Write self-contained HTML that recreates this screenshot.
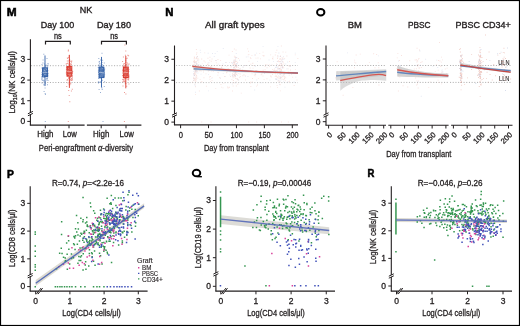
<!DOCTYPE html>
<html><head><meta charset="utf-8"><style>
html,body{margin:0;padding:0;background:#fff;}
svg{display:block;will-change:transform;}
text{font-family:"Liberation Sans", sans-serif;stroke:#231f20;stroke-width:0.3px;}
</style></head><body>
<svg width="520" height="326" viewBox="0 0 520 326" font-family='"Liberation Sans", sans-serif'>
<rect x="0" y="0" width="520" height="326" fill="#fff"/>
<text x="6.7" y="16.3" font-size="11.6" text-anchor="start" font-weight="bold" fill="#000" textLength="9.9" lengthAdjust="spacingAndGlyphs" style="stroke:#000;stroke-width:0.55px">M</text>
<text x="79.8" y="13.1" font-size="9.4" text-anchor="start" font-weight="normal" fill="#231f20" textLength="12.5" lengthAdjust="spacingAndGlyphs" style="stroke-width:0.36px">NK</text>
<text x="40.7" y="27.85" font-size="9.4" text-anchor="start" font-weight="normal" fill="#231f20" textLength="33.5" lengthAdjust="spacingAndGlyphs" style="stroke-width:0.36px">Day 100</text>
<text x="97.0" y="27.85" font-size="9.4" text-anchor="start" font-weight="normal" fill="#231f20" textLength="34.0" lengthAdjust="spacingAndGlyphs" style="stroke-width:0.36px">Day 180</text>
<text x="53.9" y="38.8" font-size="8.4" text-anchor="start" font-weight="normal" fill="#231f20" textLength="7.8" lengthAdjust="spacingAndGlyphs" >ns</text>
<text x="110.2" y="38.8" font-size="8.4" text-anchor="start" font-weight="normal" fill="#231f20" textLength="7.9" lengthAdjust="spacingAndGlyphs" >ns</text>
<path d="M45.5,44.6 V41.3 H70.3 V44.6" stroke="#231f20" stroke-width="1.2" fill="none" />
<path d="M101.5,44.6 V41.4 H126.4 V44.6" stroke="#231f20" stroke-width="1.2" fill="none" />
<line x1="31" y1="65.7" x2="84.5" y2="65.7" stroke="#b0b0b0" stroke-width="1.0" stroke-dasharray="1.1,1.6"/>
<line x1="87" y1="65.7" x2="141" y2="65.7" stroke="#b0b0b0" stroke-width="1.0" stroke-dasharray="1.1,1.6"/>
<line x1="31" y1="82.5" x2="84.5" y2="82.5" stroke="#b0b0b0" stroke-width="1.0" stroke-dasharray="1.1,1.6"/>
<line x1="87" y1="82.5" x2="141" y2="82.5" stroke="#b0b0b0" stroke-width="1.0" stroke-dasharray="1.1,1.6"/>
<line x1="30.4" y1="39.2" x2="30.4" y2="125.3" stroke="#231f20" stroke-width="1.1" />
<path d="M27.9,113.8 L32.9,111.39999999999999 L32.9,113.39999999999999 L27.9,115.8Z" fill="#fff"/>
<path d="M27.9,113.8 L32.9,111.39999999999999 M27.9,115.8 L32.9,113.39999999999999" stroke="#231f20" stroke-width="1.0" fill="none" />
<line x1="27.3" y1="59.39" x2="30.4" y2="59.39" stroke="#231f20" stroke-width="1.0" />
<text x="25.3" y="62.19" font-size="8.5" text-anchor="end" font-weight="normal" fill="#231f20" >3</text>
<line x1="27.3" y1="80.06" x2="30.4" y2="80.06" stroke="#231f20" stroke-width="1.0" />
<text x="25.3" y="82.86" font-size="8.5" text-anchor="end" font-weight="normal" fill="#231f20" >2</text>
<line x1="27.3" y1="100.73" x2="30.4" y2="100.73" stroke="#231f20" stroke-width="1.0" />
<text x="25.3" y="103.53" font-size="8.5" text-anchor="end" font-weight="normal" fill="#231f20" >1</text>
<line x1="27.3" y1="121.4" x2="30.4" y2="121.4" stroke="#231f20" stroke-width="1.0" />
<text x="25.3" y="124.2" font-size="8.5" text-anchor="end" font-weight="normal" fill="#231f20" >0</text>
<line x1="29.85" y1="125.1" x2="84.6" y2="125.1" stroke="#231f20" stroke-width="1.1" />
<line x1="86.9" y1="125.1" x2="141.4" y2="125.1" stroke="#231f20" stroke-width="1.1" />
<line x1="45.3" y1="125.1" x2="45.3" y2="128.3" stroke="#231f20" stroke-width="1.0" />
<line x1="69.0" y1="125.1" x2="69.0" y2="128.3" stroke="#231f20" stroke-width="1.0" />
<line x1="101.2" y1="125.1" x2="101.2" y2="128.3" stroke="#231f20" stroke-width="1.0" />
<line x1="126.0" y1="125.1" x2="126.0" y2="128.3" stroke="#231f20" stroke-width="1.0" />
<text x="37.2" y="137.4" font-size="8.6" text-anchor="start" font-weight="normal" fill="#231f20" textLength="16.3" lengthAdjust="spacingAndGlyphs" >High</text>
<text x="62.8" y="137.4" font-size="8.6" text-anchor="start" font-weight="normal" fill="#231f20" textLength="14.0" lengthAdjust="spacingAndGlyphs" >Low</text>
<text x="93.0" y="137.4" font-size="8.6" text-anchor="start" font-weight="normal" fill="#231f20" textLength="16.3" lengthAdjust="spacingAndGlyphs" >High</text>
<text x="119.6" y="137.4" font-size="8.6" text-anchor="start" font-weight="normal" fill="#231f20" textLength="14.2" lengthAdjust="spacingAndGlyphs" >Low</text>
<text x="38.8" y="150.9" font-size="9.0" text-anchor="start" font-weight="normal" fill="#231f20" textLength="94.2" lengthAdjust="spacingAndGlyphs" >Peri-engraftment <tspan font-style="italic">α</tspan>-diversity</text>
<text transform="translate(15.3,113.6) rotate(-90)" font-size="9.2" fill="#231f20" textLength="62.6" lengthAdjust="spacingAndGlyphs">Log<tspan font-size="6" dy="1.8">10</tspan><tspan dy="-1.8">(NK cells/μl)</tspan></text>
<path d="M47.2,71.9h1.0v1.0h-1.0zM42.2,70.1h1.0v1.0h-1.0zM47.4,73.6h1.0v1.0h-1.0zM41.2,77.4h1.0v1.0h-1.0zM46.2,74.7h1.0v1.0h-1.0zM46.5,78.1h1.0v1.0h-1.0zM42.1,71.5h1.0v1.0h-1.0zM44.0,63.6h1.0v1.0h-1.0zM46.6,75.0h1.0v1.0h-1.0zM41.3,75.8h1.0v1.0h-1.0zM45.3,68.9h1.0v1.0h-1.0zM46.4,69.7h1.0v1.0h-1.0zM44.6,71.3h1.0v1.0h-1.0zM46.0,77.7h1.0v1.0h-1.0zM42.7,72.1h1.0v1.0h-1.0zM42.5,67.6h1.0v1.0h-1.0zM43.6,80.2h1.0v1.0h-1.0zM42.4,74.7h1.0v1.0h-1.0zM43.5,83.7h1.0v1.0h-1.0zM47.5,79.9h1.0v1.0h-1.0zM45.0,83.3h1.0v1.0h-1.0zM43.4,73.4h1.0v1.0h-1.0zM43.0,79.8h1.0v1.0h-1.0zM47.5,70.2h1.0v1.0h-1.0zM44.1,70.9h1.0v1.0h-1.0zM47.7,73.1h1.0v1.0h-1.0zM44.6,87.5h1.0v1.0h-1.0zM44.6,75.3h1.0v1.0h-1.0zM47.1,72.2h1.0v1.0h-1.0zM46.1,71.2h1.0v1.0h-1.0zM45.0,81.4h1.0v1.0h-1.0zM44.0,74.9h1.0v1.0h-1.0zM47.0,78.0h1.0v1.0h-1.0zM43.9,76.9h1.0v1.0h-1.0zM47.3,65.3h1.0v1.0h-1.0zM41.7,76.9h1.0v1.0h-1.0zM44.0,72.1h1.0v1.0h-1.0zM44.6,66.4h1.0v1.0h-1.0zM47.5,75.5h1.0v1.0h-1.0zM42.9,72.6h1.0v1.0h-1.0zM46.5,71.2h1.0v1.0h-1.0zM45.7,71.5h1.0v1.0h-1.0zM45.9,79.5h1.0v1.0h-1.0zM45.4,71.4h1.0v1.0h-1.0zM47.6,63.5h1.0v1.0h-1.0zM43.4,81.5h1.0v1.0h-1.0zM43.8,66.6h1.0v1.0h-1.0zM42.5,71.2h1.0v1.0h-1.0zM41.5,75.9h1.0v1.0h-1.0zM42.6,59.5h1.0v1.0h-1.0zM47.2,67.2h1.0v1.0h-1.0zM46.7,79.3h1.0v1.0h-1.0zM41.9,71.5h1.0v1.0h-1.0zM45.2,68.3h1.0v1.0h-1.0zM44.4,73.1h1.0v1.0h-1.0zM45.1,67.7h1.0v1.0h-1.0zM45.6,72.3h1.0v1.0h-1.0zM43.2,67.8h1.0v1.0h-1.0zM47.5,63.0h1.0v1.0h-1.0zM44.3,76.1h1.0v1.0h-1.0zM45.3,70.7h1.0v1.0h-1.0zM45.4,74.8h1.0v1.0h-1.0zM42.4,71.1h1.0v1.0h-1.0zM41.6,79.3h1.0v1.0h-1.0zM43.9,75.5h1.0v1.0h-1.0zM46.2,73.1h1.0v1.0h-1.0zM46.6,66.3h1.0v1.0h-1.0zM46.0,64.8h1.0v1.0h-1.0zM41.9,80.1h1.0v1.0h-1.0zM47.2,76.8h1.0v1.0h-1.0zM46.5,67.9h1.0v1.0h-1.0zM47.0,84.3h1.0v1.0h-1.0zM44.7,74.8h1.0v1.0h-1.0zM47.2,72.5h1.0v1.0h-1.0zM41.5,64.1h1.0v1.0h-1.0zM41.4,67.6h1.0v1.0h-1.0zM41.3,73.9h1.0v1.0h-1.0zM42.9,74.2h1.0v1.0h-1.0zM42.8,73.5h1.0v1.0h-1.0zM42.4,62.5h1.0v1.0h-1.0zM44.9,74.6h1.0v1.0h-1.0zM41.5,73.8h1.0v1.0h-1.0zM45.1,69.7h1.0v1.0h-1.0zM42.3,72.7h1.0v1.0h-1.0zM45.7,73.1h1.0v1.0h-1.0zM41.3,78.8h1.0v1.0h-1.0zM43.2,72.0h1.0v1.0h-1.0zM47.4,74.7h1.0v1.0h-1.0zM44.8,64.7h1.0v1.0h-1.0zM46.6,67.9h1.0v1.0h-1.0zM45.5,72.1h1.0v1.0h-1.0zM45.2,67.8h1.0v1.0h-1.0zM42.5,74.0h1.0v1.0h-1.0zM45.0,65.4h1.0v1.0h-1.0zM41.5,71.9h1.0v1.0h-1.0zM46.5,68.3h1.0v1.0h-1.0zM47.5,79.9h1.0v1.0h-1.0zM46.8,69.8h1.0v1.0h-1.0zM41.5,82.4h1.0v1.0h-1.0zM43.4,84.5h1.0v1.0h-1.0zM43.3,73.8h1.0v1.0h-1.0zM41.9,77.5h1.0v1.0h-1.0zM45.3,70.9h1.0v1.0h-1.0zM46.5,58.0h1.0v1.0h-1.0zM43.3,77.1h1.0v1.0h-1.0zM46.9,75.8h1.0v1.0h-1.0zM46.5,70.6h1.0v1.0h-1.0zM42.1,68.9h1.0v1.0h-1.0zM46.3,73.0h1.0v1.0h-1.0zM47.0,73.2h1.0v1.0h-1.0zM43.6,90.9h1.0v1.0h-1.0zM44.7,93.0h1.0v1.0h-1.0zM44.9,94.0h1.0v1.0h-1.0zM44.8,120.9h1.0v1.0h-1.0zM43.3,53.7h1.0v1.0h-1.0z" fill="#2f5ea6" fill-opacity="0.5"/>
<line x1="45.0" y1="55.4627" x2="45.0" y2="67.8647" stroke="#2f5ea6" stroke-width="0.9" />
<line x1="45.0" y1="76.5461" x2="45.0" y2="86.05430000000001" stroke="#2f5ea6" stroke-width="0.9" />
<rect x="42.6" y="67.8647" width="4.8" height="8.681399999999996" fill="#2f5ea6" fill-opacity="0.75" stroke="#2f5ea6" stroke-width="1.0"/>
<path d="M45.2,70.7h0.8v0.8h-0.8zM45.9,69.2h0.8v0.8h-0.8zM43.9,69.9h0.8v0.8h-0.8zM46.1,68.4h0.8v0.8h-0.8zM43.2,75.9h0.8v0.8h-0.8zM45.2,74.3h0.8v0.8h-0.8zM44.9,67.9h0.8v0.8h-0.8zM44.1,74.0h0.8v0.8h-0.8zM44.4,70.4h0.8v0.8h-0.8zM43.0,72.8h0.8v0.8h-0.8z" fill="#ffffff" fill-opacity="0.35"/>
<line x1="42.5" y1="72.41210000000001" x2="47.5" y2="72.41210000000001" stroke="#ffffff" stroke-width="0.7" stroke-opacity="0.6"/>
<path d="M67.8,70.3h1.0v1.0h-1.0zM71.8,72.9h1.0v1.0h-1.0zM66.6,63.0h1.0v1.0h-1.0zM69.0,71.0h1.0v1.0h-1.0zM66.2,85.9h1.0v1.0h-1.0zM72.0,75.6h1.0v1.0h-1.0zM69.4,84.3h1.0v1.0h-1.0zM70.9,90.5h1.0v1.0h-1.0zM67.5,74.5h1.0v1.0h-1.0zM70.9,61.8h1.0v1.0h-1.0zM70.2,70.6h1.0v1.0h-1.0zM69.8,78.9h1.0v1.0h-1.0zM71.9,77.3h1.0v1.0h-1.0zM68.5,63.2h1.0v1.0h-1.0zM68.3,69.8h1.0v1.0h-1.0zM70.2,70.6h1.0v1.0h-1.0zM71.1,71.2h1.0v1.0h-1.0zM67.8,70.6h1.0v1.0h-1.0zM70.0,65.4h1.0v1.0h-1.0zM67.0,67.1h1.0v1.0h-1.0zM69.2,69.4h1.0v1.0h-1.0zM70.7,78.0h1.0v1.0h-1.0zM66.0,67.4h1.0v1.0h-1.0zM70.4,75.5h1.0v1.0h-1.0zM65.7,63.4h1.0v1.0h-1.0zM71.9,79.5h1.0v1.0h-1.0zM68.7,71.8h1.0v1.0h-1.0zM68.3,70.9h1.0v1.0h-1.0zM70.4,79.9h1.0v1.0h-1.0zM69.1,59.1h1.0v1.0h-1.0zM70.4,60.9h1.0v1.0h-1.0zM66.2,74.0h1.0v1.0h-1.0zM69.3,65.6h1.0v1.0h-1.0zM69.3,68.3h1.0v1.0h-1.0zM71.8,88.7h1.0v1.0h-1.0zM65.9,69.2h1.0v1.0h-1.0zM68.6,71.3h1.0v1.0h-1.0zM69.8,70.3h1.0v1.0h-1.0zM69.2,78.2h1.0v1.0h-1.0zM66.1,72.7h1.0v1.0h-1.0zM69.5,72.1h1.0v1.0h-1.0zM67.1,62.8h1.0v1.0h-1.0zM66.9,68.6h1.0v1.0h-1.0zM71.4,70.9h1.0v1.0h-1.0zM66.9,60.4h1.0v1.0h-1.0zM68.6,74.7h1.0v1.0h-1.0zM70.6,73.5h1.0v1.0h-1.0zM70.3,83.3h1.0v1.0h-1.0zM69.3,60.2h1.0v1.0h-1.0zM70.9,64.3h1.0v1.0h-1.0zM68.7,64.6h1.0v1.0h-1.0zM69.7,66.3h1.0v1.0h-1.0zM71.0,70.1h1.0v1.0h-1.0zM70.1,69.4h1.0v1.0h-1.0zM69.8,72.6h1.0v1.0h-1.0zM68.3,72.3h1.0v1.0h-1.0zM69.3,70.5h1.0v1.0h-1.0zM68.2,60.6h1.0v1.0h-1.0zM70.5,67.1h1.0v1.0h-1.0zM68.1,71.3h1.0v1.0h-1.0zM68.7,74.8h1.0v1.0h-1.0zM70.6,75.2h1.0v1.0h-1.0zM68.9,59.9h1.0v1.0h-1.0zM67.8,67.4h1.0v1.0h-1.0zM71.1,70.4h1.0v1.0h-1.0zM68.1,73.2h1.0v1.0h-1.0zM71.2,78.4h1.0v1.0h-1.0zM70.8,71.3h1.0v1.0h-1.0zM68.6,64.9h1.0v1.0h-1.0zM70.3,73.6h1.0v1.0h-1.0zM65.8,72.4h1.0v1.0h-1.0zM68.2,72.4h1.0v1.0h-1.0zM71.3,70.1h1.0v1.0h-1.0zM69.4,81.7h1.0v1.0h-1.0zM69.3,72.5h1.0v1.0h-1.0zM70.0,76.7h1.0v1.0h-1.0zM70.1,64.8h1.0v1.0h-1.0zM69.5,76.1h1.0v1.0h-1.0zM68.4,66.9h1.0v1.0h-1.0zM66.8,60.5h1.0v1.0h-1.0zM67.5,73.0h1.0v1.0h-1.0zM67.5,75.0h1.0v1.0h-1.0zM68.4,69.6h1.0v1.0h-1.0zM72.2,70.9h1.0v1.0h-1.0zM67.9,77.7h1.0v1.0h-1.0zM68.6,67.7h1.0v1.0h-1.0zM68.1,57.1h1.0v1.0h-1.0zM69.4,72.6h1.0v1.0h-1.0zM71.9,72.3h1.0v1.0h-1.0zM71.5,78.0h1.0v1.0h-1.0zM68.1,68.7h1.0v1.0h-1.0zM67.4,79.4h1.0v1.0h-1.0zM71.4,78.4h1.0v1.0h-1.0zM68.9,62.1h1.0v1.0h-1.0zM70.1,77.1h1.0v1.0h-1.0zM66.1,63.5h1.0v1.0h-1.0zM71.3,60.5h1.0v1.0h-1.0zM67.7,69.1h1.0v1.0h-1.0zM68.9,67.1h1.0v1.0h-1.0zM66.9,57.6h1.0v1.0h-1.0zM68.4,72.2h1.0v1.0h-1.0zM71.1,74.9h1.0v1.0h-1.0zM71.1,80.1h1.0v1.0h-1.0zM68.7,70.6h1.0v1.0h-1.0zM70.7,60.8h1.0v1.0h-1.0zM68.6,64.3h1.0v1.0h-1.0zM68.1,77.3h1.0v1.0h-1.0zM69.2,76.7h1.0v1.0h-1.0zM66.9,74.3h1.0v1.0h-1.0zM67.7,68.9h1.0v1.0h-1.0zM70.3,72.3h1.0v1.0h-1.0zM70.7,69.4h1.0v1.0h-1.0zM66.0,68.9h1.0v1.0h-1.0zM70.4,72.9h1.0v1.0h-1.0zM71.0,71.2h1.0v1.0h-1.0zM68.5,69.5h1.0v1.0h-1.0zM66.0,71.5h1.0v1.0h-1.0zM70.1,67.4h1.0v1.0h-1.0zM67.2,58.1h1.0v1.0h-1.0zM69.8,66.8h1.0v1.0h-1.0zM68.1,70.5h1.0v1.0h-1.0zM69.8,82.4h1.0v1.0h-1.0zM67.3,68.2h1.0v1.0h-1.0zM68.7,84.2h1.0v1.0h-1.0zM69.1,80.5h1.0v1.0h-1.0zM69.8,65.0h1.0v1.0h-1.0zM66.9,66.1h1.0v1.0h-1.0zM71.9,71.9h1.0v1.0h-1.0zM67.5,82.5h1.0v1.0h-1.0zM67.6,73.4h1.0v1.0h-1.0zM67.3,75.5h1.0v1.0h-1.0zM66.0,66.5h1.0v1.0h-1.0zM68.4,55.5h1.0v1.0h-1.0zM70.7,69.4h1.0v1.0h-1.0zM70.3,76.2h1.0v1.0h-1.0zM66.9,78.9h1.0v1.0h-1.0zM66.5,71.3h1.0v1.0h-1.0zM67.7,72.1h1.0v1.0h-1.0zM70.7,78.7h1.0v1.0h-1.0zM68.8,70.1h1.0v1.0h-1.0zM71.7,78.7h1.0v1.0h-1.0zM69.9,63.3h1.0v1.0h-1.0zM69.7,63.6h1.0v1.0h-1.0zM70.7,63.5h1.0v1.0h-1.0zM70.6,74.1h1.0v1.0h-1.0zM67.9,67.4h1.0v1.0h-1.0zM67.3,71.8h1.0v1.0h-1.0zM68.5,73.5h1.0v1.0h-1.0zM68.8,73.2h1.0v1.0h-1.0zM66.5,79.7h1.0v1.0h-1.0zM68.7,95.1h1.0v1.0h-1.0zM69.3,101.3h1.0v1.0h-1.0zM67.8,120.9h1.0v1.0h-1.0zM67.8,50.6h1.0v1.0h-1.0zM67.9,49.6h1.0v1.0h-1.0zM68.2,89.9h1.0v1.0h-1.0z" fill="#d9372b" fill-opacity="0.5"/>
<line x1="69.4" y1="54.84259999999999" x2="69.4" y2="66.62450000000001" stroke="#d9372b" stroke-width="0.9" />
<line x1="69.4" y1="76.1327" x2="69.4" y2="87.91460000000001" stroke="#d9372b" stroke-width="0.9" />
<rect x="67.0" y="66.62450000000001" width="4.8" height="9.508199999999988" fill="#d9372b" fill-opacity="0.75" stroke="#d9372b" stroke-width="1.0"/>
<path d="M70.8,75.5h0.8v0.8h-0.8zM67.7,74.2h0.8v0.8h-0.8zM68.9,75.6h0.8v0.8h-0.8zM68.8,74.2h0.8v0.8h-0.8zM68.1,68.2h0.8v0.8h-0.8zM67.7,69.9h0.8v0.8h-0.8zM68.6,71.8h0.8v0.8h-0.8zM70.3,74.2h0.8v0.8h-0.8zM70.7,67.2h0.8v0.8h-0.8zM69.7,75.3h0.8v0.8h-0.8z" fill="#ffffff" fill-opacity="0.35"/>
<line x1="66.9" y1="71.58529999999999" x2="71.9" y2="71.58529999999999" stroke="#ffffff" stroke-width="0.7" stroke-opacity="0.6"/>
<path d="M100.7,70.6h1.0v1.0h-1.0zM104.1,81.3h1.0v1.0h-1.0zM99.8,68.6h1.0v1.0h-1.0zM98.0,64.7h1.0v1.0h-1.0zM100.3,65.7h1.0v1.0h-1.0zM98.7,70.5h1.0v1.0h-1.0zM98.2,81.6h1.0v1.0h-1.0zM101.4,66.1h1.0v1.0h-1.0zM104.0,72.8h1.0v1.0h-1.0zM101.5,87.6h1.0v1.0h-1.0zM102.0,69.6h1.0v1.0h-1.0zM99.8,81.2h1.0v1.0h-1.0zM101.5,80.0h1.0v1.0h-1.0zM102.7,75.8h1.0v1.0h-1.0zM101.6,64.0h1.0v1.0h-1.0zM103.0,74.2h1.0v1.0h-1.0zM101.3,70.2h1.0v1.0h-1.0zM99.0,61.1h1.0v1.0h-1.0zM101.5,62.0h1.0v1.0h-1.0zM100.9,72.6h1.0v1.0h-1.0zM98.8,73.4h1.0v1.0h-1.0zM101.8,79.7h1.0v1.0h-1.0zM103.1,76.2h1.0v1.0h-1.0zM98.6,69.3h1.0v1.0h-1.0zM101.3,69.5h1.0v1.0h-1.0zM102.5,71.2h1.0v1.0h-1.0zM100.4,65.7h1.0v1.0h-1.0zM99.5,76.7h1.0v1.0h-1.0zM100.2,72.3h1.0v1.0h-1.0zM101.3,67.4h1.0v1.0h-1.0zM102.2,68.3h1.0v1.0h-1.0zM101.4,65.3h1.0v1.0h-1.0zM98.4,69.5h1.0v1.0h-1.0zM103.1,73.8h1.0v1.0h-1.0zM103.8,69.7h1.0v1.0h-1.0zM98.4,78.1h1.0v1.0h-1.0zM99.3,82.1h1.0v1.0h-1.0zM98.8,68.3h1.0v1.0h-1.0zM103.3,72.3h1.0v1.0h-1.0zM103.7,70.0h1.0v1.0h-1.0zM98.0,82.4h1.0v1.0h-1.0zM99.9,74.2h1.0v1.0h-1.0zM99.0,75.6h1.0v1.0h-1.0zM100.8,77.3h1.0v1.0h-1.0zM103.8,85.9h1.0v1.0h-1.0zM98.2,74.0h1.0v1.0h-1.0zM98.8,66.3h1.0v1.0h-1.0zM100.9,69.5h1.0v1.0h-1.0zM101.2,75.6h1.0v1.0h-1.0zM102.6,72.0h1.0v1.0h-1.0zM100.6,67.2h1.0v1.0h-1.0zM98.6,89.0h1.0v1.0h-1.0zM100.0,72.7h1.0v1.0h-1.0zM104.2,68.5h1.0v1.0h-1.0zM102.7,67.7h1.0v1.0h-1.0zM98.5,61.4h1.0v1.0h-1.0zM103.0,64.9h1.0v1.0h-1.0zM99.8,70.0h1.0v1.0h-1.0zM102.9,70.0h1.0v1.0h-1.0zM97.8,67.0h1.0v1.0h-1.0zM103.5,75.3h1.0v1.0h-1.0zM98.8,72.2h1.0v1.0h-1.0zM100.7,66.3h1.0v1.0h-1.0zM102.1,59.8h1.0v1.0h-1.0zM101.1,72.9h1.0v1.0h-1.0zM98.8,72.2h1.0v1.0h-1.0zM98.6,70.7h1.0v1.0h-1.0zM99.6,63.6h1.0v1.0h-1.0zM98.0,72.1h1.0v1.0h-1.0zM99.1,62.8h1.0v1.0h-1.0zM98.6,77.9h1.0v1.0h-1.0zM100.8,73.1h1.0v1.0h-1.0zM100.1,73.1h1.0v1.0h-1.0zM101.6,67.0h1.0v1.0h-1.0zM99.6,65.4h1.0v1.0h-1.0zM97.9,81.3h1.0v1.0h-1.0zM99.9,77.6h1.0v1.0h-1.0zM102.7,69.8h1.0v1.0h-1.0zM99.4,76.0h1.0v1.0h-1.0zM100.4,81.4h1.0v1.0h-1.0zM102.7,65.5h1.0v1.0h-1.0zM100.4,68.8h1.0v1.0h-1.0zM103.6,68.9h1.0v1.0h-1.0zM103.8,74.9h1.0v1.0h-1.0zM99.7,65.5h1.0v1.0h-1.0zM102.6,73.4h1.0v1.0h-1.0zM99.4,65.1h1.0v1.0h-1.0zM98.6,77.6h1.0v1.0h-1.0zM100.6,77.2h1.0v1.0h-1.0zM101.7,70.6h1.0v1.0h-1.0zM103.9,76.3h1.0v1.0h-1.0zM98.7,67.7h1.0v1.0h-1.0zM102.4,70.3h1.0v1.0h-1.0zM100.8,77.6h1.0v1.0h-1.0zM98.6,71.5h1.0v1.0h-1.0zM104.1,74.1h1.0v1.0h-1.0zM102.3,66.2h1.0v1.0h-1.0zM98.6,75.8h1.0v1.0h-1.0zM103.7,74.6h1.0v1.0h-1.0zM98.4,64.4h1.0v1.0h-1.0zM98.3,58.0h1.0v1.0h-1.0zM99.9,59.5h1.0v1.0h-1.0zM103.9,71.5h1.0v1.0h-1.0zM97.9,70.6h1.0v1.0h-1.0zM103.8,62.4h1.0v1.0h-1.0zM101.7,72.7h1.0v1.0h-1.0zM98.1,78.0h1.0v1.0h-1.0zM101.5,71.2h1.0v1.0h-1.0zM100.7,69.1h1.0v1.0h-1.0zM101.4,77.1h1.0v1.0h-1.0zM101.7,88.9h1.0v1.0h-1.0zM101.5,52.7h1.0v1.0h-1.0zM102.5,120.9h1.0v1.0h-1.0zM100.0,92.0h1.0v1.0h-1.0z" fill="#2f5ea6" fill-opacity="0.5"/>
<line x1="101.5" y1="56.9096" x2="101.5" y2="67.24459999999999" stroke="#2f5ea6" stroke-width="0.9" />
<line x1="101.5" y1="77.5796" x2="101.5" y2="87.50120000000001" stroke="#2f5ea6" stroke-width="0.9" />
<rect x="99.1" y="67.24459999999999" width="4.8" height="10.335000000000008" fill="#2f5ea6" fill-opacity="0.75" stroke="#2f5ea6" stroke-width="1.0"/>
<path d="M102.4,72.9h0.8v0.8h-0.8zM102.2,68.0h0.8v0.8h-0.8zM103.1,74.4h0.8v0.8h-0.8zM100.9,67.4h0.8v0.8h-0.8zM102.9,73.3h0.8v0.8h-0.8zM102.9,73.0h0.8v0.8h-0.8zM100.6,69.4h0.8v0.8h-0.8zM101.0,72.5h0.8v0.8h-0.8zM100.6,72.7h0.8v0.8h-0.8zM99.7,76.5h0.8v0.8h-0.8z" fill="#ffffff" fill-opacity="0.35"/>
<line x1="99.0" y1="72.41210000000001" x2="104.0" y2="72.41210000000001" stroke="#ffffff" stroke-width="0.7" stroke-opacity="0.6"/>
<path d="M126.6,71.5h1.0v1.0h-1.0zM123.3,63.5h1.0v1.0h-1.0zM125.1,68.9h1.0v1.0h-1.0zM128.4,69.1h1.0v1.0h-1.0zM125.6,69.0h1.0v1.0h-1.0zM122.4,81.3h1.0v1.0h-1.0zM124.8,72.8h1.0v1.0h-1.0zM126.4,73.4h1.0v1.0h-1.0zM122.4,70.3h1.0v1.0h-1.0zM123.7,80.7h1.0v1.0h-1.0zM122.1,60.9h1.0v1.0h-1.0zM125.6,71.0h1.0v1.0h-1.0zM124.5,79.7h1.0v1.0h-1.0zM125.3,83.0h1.0v1.0h-1.0zM124.0,73.6h1.0v1.0h-1.0zM126.3,72.3h1.0v1.0h-1.0zM123.1,76.5h1.0v1.0h-1.0zM128.0,71.1h1.0v1.0h-1.0zM128.3,75.9h1.0v1.0h-1.0zM125.3,68.1h1.0v1.0h-1.0zM125.1,76.5h1.0v1.0h-1.0zM127.7,72.0h1.0v1.0h-1.0zM123.9,65.2h1.0v1.0h-1.0zM127.3,54.7h1.0v1.0h-1.0zM123.9,78.4h1.0v1.0h-1.0zM126.8,74.8h1.0v1.0h-1.0zM124.2,77.3h1.0v1.0h-1.0zM126.0,66.5h1.0v1.0h-1.0zM128.1,79.3h1.0v1.0h-1.0zM122.4,74.9h1.0v1.0h-1.0zM127.3,71.9h1.0v1.0h-1.0zM125.6,78.2h1.0v1.0h-1.0zM124.5,78.0h1.0v1.0h-1.0zM124.3,74.9h1.0v1.0h-1.0zM122.5,85.6h1.0v1.0h-1.0zM123.7,81.3h1.0v1.0h-1.0zM126.1,74.4h1.0v1.0h-1.0zM122.6,70.7h1.0v1.0h-1.0zM126.4,72.9h1.0v1.0h-1.0zM128.4,83.4h1.0v1.0h-1.0zM128.5,74.8h1.0v1.0h-1.0zM127.9,66.4h1.0v1.0h-1.0zM127.3,68.0h1.0v1.0h-1.0zM123.2,72.2h1.0v1.0h-1.0zM128.4,77.6h1.0v1.0h-1.0zM123.3,67.5h1.0v1.0h-1.0zM127.7,75.5h1.0v1.0h-1.0zM127.8,79.4h1.0v1.0h-1.0zM126.1,77.0h1.0v1.0h-1.0zM125.4,62.1h1.0v1.0h-1.0zM123.3,70.2h1.0v1.0h-1.0zM125.4,64.0h1.0v1.0h-1.0zM123.9,74.9h1.0v1.0h-1.0zM122.8,65.5h1.0v1.0h-1.0zM122.8,75.7h1.0v1.0h-1.0zM127.3,72.7h1.0v1.0h-1.0zM128.1,55.3h1.0v1.0h-1.0zM122.9,66.6h1.0v1.0h-1.0zM122.1,75.0h1.0v1.0h-1.0zM123.7,72.3h1.0v1.0h-1.0zM122.9,69.5h1.0v1.0h-1.0zM123.2,63.7h1.0v1.0h-1.0zM125.8,74.9h1.0v1.0h-1.0zM124.8,83.2h1.0v1.0h-1.0zM124.8,73.6h1.0v1.0h-1.0zM123.4,71.6h1.0v1.0h-1.0zM126.4,71.0h1.0v1.0h-1.0zM123.9,63.0h1.0v1.0h-1.0zM124.6,69.6h1.0v1.0h-1.0zM125.1,66.3h1.0v1.0h-1.0zM128.0,79.0h1.0v1.0h-1.0zM123.6,66.0h1.0v1.0h-1.0zM126.7,57.8h1.0v1.0h-1.0zM124.0,66.6h1.0v1.0h-1.0zM127.9,70.0h1.0v1.0h-1.0zM124.6,70.7h1.0v1.0h-1.0zM125.3,59.9h1.0v1.0h-1.0zM127.8,77.8h1.0v1.0h-1.0zM126.4,72.4h1.0v1.0h-1.0zM122.6,68.7h1.0v1.0h-1.0zM122.9,66.8h1.0v1.0h-1.0zM128.5,74.6h1.0v1.0h-1.0zM122.2,69.7h1.0v1.0h-1.0zM124.0,73.5h1.0v1.0h-1.0zM128.3,70.9h1.0v1.0h-1.0zM122.1,72.6h1.0v1.0h-1.0zM123.1,79.3h1.0v1.0h-1.0zM123.4,71.8h1.0v1.0h-1.0zM122.6,65.9h1.0v1.0h-1.0zM125.1,78.1h1.0v1.0h-1.0zM125.9,73.3h1.0v1.0h-1.0zM124.1,67.3h1.0v1.0h-1.0zM122.7,78.8h1.0v1.0h-1.0zM127.4,70.5h1.0v1.0h-1.0zM127.3,78.7h1.0v1.0h-1.0zM125.7,64.2h1.0v1.0h-1.0zM122.9,56.4h1.0v1.0h-1.0zM125.6,58.3h1.0v1.0h-1.0zM126.2,73.2h1.0v1.0h-1.0zM124.8,66.8h1.0v1.0h-1.0zM127.7,70.9h1.0v1.0h-1.0zM124.6,71.0h1.0v1.0h-1.0zM125.4,61.5h1.0v1.0h-1.0zM122.8,80.4h1.0v1.0h-1.0zM125.7,64.7h1.0v1.0h-1.0zM127.1,72.0h1.0v1.0h-1.0zM126.8,62.4h1.0v1.0h-1.0zM123.7,70.5h1.0v1.0h-1.0zM128.5,76.2h1.0v1.0h-1.0zM126.8,69.9h1.0v1.0h-1.0zM124.8,66.8h1.0v1.0h-1.0zM124.7,71.5h1.0v1.0h-1.0zM127.1,68.5h1.0v1.0h-1.0zM123.2,75.2h1.0v1.0h-1.0zM126.2,85.8h1.0v1.0h-1.0zM126.7,65.8h1.0v1.0h-1.0zM125.4,67.1h1.0v1.0h-1.0zM127.8,70.7h1.0v1.0h-1.0zM125.1,71.3h1.0v1.0h-1.0zM125.1,64.9h1.0v1.0h-1.0zM123.9,74.7h1.0v1.0h-1.0zM128.1,76.4h1.0v1.0h-1.0zM124.1,73.0h1.0v1.0h-1.0zM126.6,63.8h1.0v1.0h-1.0zM124.7,80.9h1.0v1.0h-1.0zM128.2,63.8h1.0v1.0h-1.0zM128.3,75.9h1.0v1.0h-1.0zM122.2,79.0h1.0v1.0h-1.0zM128.6,63.4h1.0v1.0h-1.0zM126.0,72.3h1.0v1.0h-1.0zM124.0,92.0h1.0v1.0h-1.0zM125.3,50.6h1.0v1.0h-1.0zM123.9,120.9h1.0v1.0h-1.0zM125.4,93.4h1.0v1.0h-1.0zM124.4,44.4h1.0v1.0h-1.0zM124.9,54.8h1.0v1.0h-1.0z" fill="#d9372b" fill-opacity="0.5"/>
<line x1="125.8" y1="55.87610000000001" x2="125.8" y2="67.24459999999999" stroke="#d9372b" stroke-width="0.9" />
<line x1="125.8" y1="77.5796" x2="125.8" y2="88.328" stroke="#d9372b" stroke-width="0.9" />
<rect x="123.39999999999999" y="67.24459999999999" width="4.8" height="10.335000000000008" fill="#d9372b" fill-opacity="0.75" stroke="#d9372b" stroke-width="1.0"/>
<path d="M124.6,71.0h0.8v0.8h-0.8zM126.7,67.5h0.8v0.8h-0.8zM124.7,71.3h0.8v0.8h-0.8zM123.4,73.3h0.8v0.8h-0.8zM127.2,76.0h0.8v0.8h-0.8zM126.9,70.4h0.8v0.8h-0.8zM124.6,69.1h0.8v0.8h-0.8zM124.6,67.9h0.8v0.8h-0.8zM123.7,75.9h0.8v0.8h-0.8zM126.4,72.5h0.8v0.8h-0.8z" fill="#ffffff" fill-opacity="0.35"/>
<line x1="123.3" y1="72.41210000000001" x2="128.3" y2="72.41210000000001" stroke="#ffffff" stroke-width="0.7" stroke-opacity="0.6"/>
<text x="165.2" y="16.3" font-size="11.2" text-anchor="start" font-weight="bold" fill="#000" textLength="8.2" lengthAdjust="spacingAndGlyphs" style="stroke:#000;stroke-width:0.55px">N</text>
<text x="205.0" y="28.2" font-size="9.4" text-anchor="start" font-weight="normal" fill="#231f20" textLength="59.6" lengthAdjust="spacingAndGlyphs" style="stroke-width:0.36px">All graft types</text>
<line x1="176" y1="65.5" x2="298" y2="65.5" stroke="#c0c0c0" stroke-width="1.0" stroke-dasharray="1.1,1.6"/>
<line x1="176" y1="82.6" x2="298" y2="82.6" stroke="#c0c0c0" stroke-width="1.0" stroke-dasharray="1.1,1.6"/>
<path d="M196.1,75.1h0.9v0.9h-0.9zM193.1,69.1h0.9v0.9h-0.9zM194.8,77.8h0.9v0.9h-0.9zM196.3,66.7h0.9v0.9h-0.9zM193.5,64.2h0.9v0.9h-0.9zM195.6,74.5h0.9v0.9h-0.9zM195.5,65.3h0.9v0.9h-0.9zM195.6,79.5h0.9v0.9h-0.9zM197.0,56.1h0.9v0.9h-0.9zM193.0,80.2h0.9v0.9h-0.9zM196.3,61.1h0.9v0.9h-0.9zM195.9,65.7h0.9v0.9h-0.9zM194.2,64.6h0.9v0.9h-0.9zM194.9,70.7h0.9v0.9h-0.9zM194.1,57.1h0.9v0.9h-0.9zM196.1,76.9h0.9v0.9h-0.9zM195.3,66.2h0.9v0.9h-0.9zM195.1,94.2h0.9v0.9h-0.9zM196.4,52.3h0.9v0.9h-0.9zM194.4,79.3h0.9v0.9h-0.9zM193.0,78.1h0.9v0.9h-0.9zM195.3,70.9h0.9v0.9h-0.9zM194.5,63.2h0.9v0.9h-0.9zM197.2,70.9h0.9v0.9h-0.9zM194.3,72.0h0.9v0.9h-0.9zM192.2,81.6h0.9v0.9h-0.9zM195.8,63.7h0.9v0.9h-0.9zM193.5,61.6h0.9v0.9h-0.9zM195.4,77.8h0.9v0.9h-0.9zM194.1,73.5h0.9v0.9h-0.9zM196.1,57.3h0.9v0.9h-0.9zM194.0,60.1h0.9v0.9h-0.9zM195.6,68.7h0.9v0.9h-0.9zM194.1,78.6h0.9v0.9h-0.9zM193.0,65.0h0.9v0.9h-0.9zM194.5,61.6h0.9v0.9h-0.9zM193.9,75.0h0.9v0.9h-0.9zM194.0,60.5h0.9v0.9h-0.9zM194.6,73.4h0.9v0.9h-0.9zM194.1,64.5h0.9v0.9h-0.9zM193.6,58.4h0.9v0.9h-0.9zM196.5,64.0h0.9v0.9h-0.9zM196.4,70.7h0.9v0.9h-0.9zM192.6,64.4h0.9v0.9h-0.9zM194.6,73.8h0.9v0.9h-0.9zM193.3,61.6h0.9v0.9h-0.9zM194.7,68.9h0.9v0.9h-0.9zM194.5,80.3h0.9v0.9h-0.9zM194.2,71.5h0.9v0.9h-0.9zM196.1,53.8h0.9v0.9h-0.9zM195.4,61.7h0.9v0.9h-0.9zM196.1,58.1h0.9v0.9h-0.9zM195.5,77.8h0.9v0.9h-0.9zM193.5,68.1h0.9v0.9h-0.9zM195.8,78.6h0.9v0.9h-0.9zM194.5,58.3h0.9v0.9h-0.9zM195.0,67.4h0.9v0.9h-0.9zM195.8,70.4h0.9v0.9h-0.9zM194.6,83.6h0.9v0.9h-0.9zM195.1,61.6h0.9v0.9h-0.9zM195.4,67.4h0.9v0.9h-0.9zM194.4,77.9h0.9v0.9h-0.9zM195.1,86.3h0.9v0.9h-0.9zM194.0,68.9h0.9v0.9h-0.9zM195.3,70.0h0.9v0.9h-0.9zM194.8,70.2h0.9v0.9h-0.9zM193.0,76.8h0.9v0.9h-0.9zM195.0,70.2h0.9v0.9h-0.9zM193.0,60.8h0.9v0.9h-0.9zM195.1,70.9h0.9v0.9h-0.9zM192.5,67.0h0.9v0.9h-0.9zM196.4,70.5h0.9v0.9h-0.9zM195.3,65.3h0.9v0.9h-0.9zM196.3,75.8h0.9v0.9h-0.9zM195.4,72.6h0.9v0.9h-0.9zM195.9,49.1h0.9v0.9h-0.9zM192.8,67.5h0.9v0.9h-0.9zM195.4,81.0h0.9v0.9h-0.9zM196.8,59.4h0.9v0.9h-0.9zM194.8,61.2h0.9v0.9h-0.9zM194.8,76.4h0.9v0.9h-0.9zM193.2,73.7h0.9v0.9h-0.9zM194.5,62.1h0.9v0.9h-0.9zM234.0,71.0h0.9v0.9h-0.9zM235.8,74.1h0.9v0.9h-0.9zM237.2,62.0h0.9v0.9h-0.9zM233.6,61.4h0.9v0.9h-0.9zM232.2,75.7h0.9v0.9h-0.9zM234.6,75.7h0.9v0.9h-0.9zM235.0,58.8h0.9v0.9h-0.9zM236.3,60.8h0.9v0.9h-0.9zM233.7,64.3h0.9v0.9h-0.9zM234.5,76.7h0.9v0.9h-0.9zM237.9,66.9h0.9v0.9h-0.9zM232.8,69.1h0.9v0.9h-0.9zM235.4,73.0h0.9v0.9h-0.9zM234.7,57.2h0.9v0.9h-0.9zM234.3,74.8h0.9v0.9h-0.9zM234.9,74.9h0.9v0.9h-0.9zM235.1,75.1h0.9v0.9h-0.9zM236.5,66.6h0.9v0.9h-0.9zM234.5,57.2h0.9v0.9h-0.9zM234.4,62.3h0.9v0.9h-0.9zM233.6,62.1h0.9v0.9h-0.9zM233.1,80.2h0.9v0.9h-0.9zM234.7,60.3h0.9v0.9h-0.9zM232.7,70.3h0.9v0.9h-0.9zM232.6,77.3h0.9v0.9h-0.9zM235.7,80.9h0.9v0.9h-0.9zM232.8,79.9h0.9v0.9h-0.9zM235.3,71.3h0.9v0.9h-0.9zM232.1,72.8h0.9v0.9h-0.9zM235.7,63.5h0.9v0.9h-0.9zM232.4,75.5h0.9v0.9h-0.9zM235.9,64.7h0.9v0.9h-0.9zM233.9,63.5h0.9v0.9h-0.9zM233.3,59.7h0.9v0.9h-0.9zM235.9,66.1h0.9v0.9h-0.9zM234.6,56.8h0.9v0.9h-0.9zM233.0,62.4h0.9v0.9h-0.9zM232.3,74.1h0.9v0.9h-0.9zM234.7,61.3h0.9v0.9h-0.9zM237.4,83.8h0.9v0.9h-0.9zM233.2,75.8h0.9v0.9h-0.9zM236.9,79.2h0.9v0.9h-0.9zM236.4,65.7h0.9v0.9h-0.9zM235.8,67.1h0.9v0.9h-0.9zM233.8,67.1h0.9v0.9h-0.9zM234.8,63.9h0.9v0.9h-0.9zM233.8,69.9h0.9v0.9h-0.9zM236.1,70.5h0.9v0.9h-0.9zM231.4,78.9h0.9v0.9h-0.9zM234.8,72.1h0.9v0.9h-0.9zM236.4,74.0h0.9v0.9h-0.9zM235.4,61.0h0.9v0.9h-0.9zM236.4,65.2h0.9v0.9h-0.9zM234.9,65.9h0.9v0.9h-0.9zM234.5,58.9h0.9v0.9h-0.9zM235.2,78.0h0.9v0.9h-0.9zM234.6,82.6h0.9v0.9h-0.9zM235.4,63.5h0.9v0.9h-0.9zM235.9,85.5h0.9v0.9h-0.9zM234.8,73.5h0.9v0.9h-0.9zM233.2,66.8h0.9v0.9h-0.9zM236.1,65.0h0.9v0.9h-0.9zM235.5,64.4h0.9v0.9h-0.9zM234.8,74.9h0.9v0.9h-0.9zM235.4,70.1h0.9v0.9h-0.9zM233.9,48.5h0.9v0.9h-0.9zM235.1,71.6h0.9v0.9h-0.9zM235.0,69.9h0.9v0.9h-0.9zM234.2,71.3h0.9v0.9h-0.9zM235.0,65.5h0.9v0.9h-0.9zM235.2,64.5h0.9v0.9h-0.9zM234.9,68.5h0.9v0.9h-0.9zM232.8,70.5h0.9v0.9h-0.9zM232.6,63.9h0.9v0.9h-0.9zM234.9,76.0h0.9v0.9h-0.9zM232.7,85.5h0.9v0.9h-0.9zM234.9,56.4h0.9v0.9h-0.9zM236.3,57.4h0.9v0.9h-0.9zM230.6,66.5h0.9v0.9h-0.9zM235.0,71.9h0.9v0.9h-0.9zM236.6,78.1h0.9v0.9h-0.9zM232.0,90.6h0.9v0.9h-0.9zM234.4,66.4h0.9v0.9h-0.9zM232.2,75.5h0.9v0.9h-0.9zM233.3,72.2h0.9v0.9h-0.9zM233.8,62.9h0.9v0.9h-0.9zM233.3,61.3h0.9v0.9h-0.9zM231.9,51.0h0.9v0.9h-0.9zM233.2,64.4h0.9v0.9h-0.9zM274.7,76.2h0.9v0.9h-0.9zM282.6,57.4h0.9v0.9h-0.9zM276.0,63.5h0.9v0.9h-0.9zM280.8,59.5h0.9v0.9h-0.9zM277.1,76.9h0.9v0.9h-0.9zM276.8,69.6h0.9v0.9h-0.9zM277.0,58.0h0.9v0.9h-0.9zM279.6,59.0h0.9v0.9h-0.9zM280.8,76.4h0.9v0.9h-0.9zM282.3,78.7h0.9v0.9h-0.9zM279.5,81.5h0.9v0.9h-0.9zM283.8,76.6h0.9v0.9h-0.9zM279.3,70.6h0.9v0.9h-0.9zM279.7,77.6h0.9v0.9h-0.9zM279.2,61.1h0.9v0.9h-0.9zM280.0,58.2h0.9v0.9h-0.9zM283.4,73.6h0.9v0.9h-0.9zM277.7,65.9h0.9v0.9h-0.9zM280.9,45.6h0.9v0.9h-0.9zM277.6,61.1h0.9v0.9h-0.9zM280.2,71.3h0.9v0.9h-0.9zM279.7,71.6h0.9v0.9h-0.9zM280.4,77.6h0.9v0.9h-0.9zM284.1,72.9h0.9v0.9h-0.9zM279.9,90.4h0.9v0.9h-0.9zM277.0,86.9h0.9v0.9h-0.9zM276.2,70.3h0.9v0.9h-0.9zM279.7,74.1h0.9v0.9h-0.9zM278.1,67.7h0.9v0.9h-0.9zM282.3,58.5h0.9v0.9h-0.9zM276.6,84.9h0.9v0.9h-0.9zM282.6,67.3h0.9v0.9h-0.9zM275.0,70.5h0.9v0.9h-0.9zM280.4,63.0h0.9v0.9h-0.9zM279.7,69.3h0.9v0.9h-0.9zM280.0,71.5h0.9v0.9h-0.9zM281.5,71.5h0.9v0.9h-0.9zM280.7,64.8h0.9v0.9h-0.9zM275.2,73.3h0.9v0.9h-0.9zM280.2,66.4h0.9v0.9h-0.9zM275.3,75.6h0.9v0.9h-0.9zM278.2,77.6h0.9v0.9h-0.9zM272.5,58.5h0.9v0.9h-0.9zM283.5,75.6h0.9v0.9h-0.9zM281.5,57.4h0.9v0.9h-0.9zM278.7,71.1h0.9v0.9h-0.9zM279.0,68.1h0.9v0.9h-0.9zM280.2,72.2h0.9v0.9h-0.9zM284.1,78.0h0.9v0.9h-0.9zM282.3,60.9h0.9v0.9h-0.9zM281.5,74.7h0.9v0.9h-0.9zM279.1,65.1h0.9v0.9h-0.9zM279.1,63.7h0.9v0.9h-0.9zM286.4,55.5h0.9v0.9h-0.9zM274.5,72.3h0.9v0.9h-0.9zM280.1,67.8h0.9v0.9h-0.9zM281.2,63.5h0.9v0.9h-0.9zM279.8,83.9h0.9v0.9h-0.9zM279.9,56.1h0.9v0.9h-0.9zM283.3,79.3h0.9v0.9h-0.9zM283.4,63.5h0.9v0.9h-0.9zM276.4,76.1h0.9v0.9h-0.9zM272.5,56.5h0.9v0.9h-0.9zM281.7,66.8h0.9v0.9h-0.9zM276.7,76.7h0.9v0.9h-0.9zM276.0,75.6h0.9v0.9h-0.9zM284.1,78.4h0.9v0.9h-0.9zM275.6,78.5h0.9v0.9h-0.9zM282.2,76.1h0.9v0.9h-0.9zM284.8,80.3h0.9v0.9h-0.9zM278.6,61.3h0.9v0.9h-0.9zM277.6,80.6h0.9v0.9h-0.9zM278.7,80.7h0.9v0.9h-0.9zM282.4,66.1h0.9v0.9h-0.9zM278.7,72.0h0.9v0.9h-0.9zM277.3,56.7h0.9v0.9h-0.9zM281.6,64.3h0.9v0.9h-0.9zM288.1,72.8h0.9v0.9h-0.9zM276.4,70.9h0.9v0.9h-0.9zM280.7,70.6h0.9v0.9h-0.9zM277.2,67.9h0.9v0.9h-0.9zM202.4,68.4h0.9v0.9h-0.9zM244.7,74.9h0.9v0.9h-0.9zM211.6,80.2h0.9v0.9h-0.9zM257.0,84.6h0.9v0.9h-0.9zM217.5,72.0h0.9v0.9h-0.9zM257.9,78.2h0.9v0.9h-0.9zM283.3,67.4h0.9v0.9h-0.9zM205.5,73.4h0.9v0.9h-0.9zM293.7,85.0h0.9v0.9h-0.9zM226.4,66.2h0.9v0.9h-0.9zM229.0,86.8h0.9v0.9h-0.9zM195.3,79.6h0.9v0.9h-0.9zM289.1,80.8h0.9v0.9h-0.9zM195.3,67.7h0.9v0.9h-0.9zM239.6,68.1h0.9v0.9h-0.9zM225.8,62.2h0.9v0.9h-0.9zM236.7,72.3h0.9v0.9h-0.9zM277.3,55.3h0.9v0.9h-0.9zM249.7,67.6h0.9v0.9h-0.9zM284.5,76.5h0.9v0.9h-0.9zM248.5,54.2h0.9v0.9h-0.9zM209.0,76.5h0.9v0.9h-0.9zM297.4,58.1h0.9v0.9h-0.9zM275.5,51.9h0.9v0.9h-0.9zM205.9,85.8h0.9v0.9h-0.9zM251.6,73.4h0.9v0.9h-0.9zM294.8,54.4h0.9v0.9h-0.9zM211.7,77.2h0.9v0.9h-0.9zM220.9,67.2h0.9v0.9h-0.9zM216.1,68.2h0.9v0.9h-0.9zM248.5,60.8h0.9v0.9h-0.9zM198.2,61.7h0.9v0.9h-0.9zM222.5,87.4h0.9v0.9h-0.9zM233.9,55.7h0.9v0.9h-0.9zM204.8,61.7h0.9v0.9h-0.9zM230.1,76.0h0.9v0.9h-0.9zM237.7,79.6h0.9v0.9h-0.9zM193.9,56.6h0.9v0.9h-0.9zM280.0,55.5h0.9v0.9h-0.9zM207.1,64.1h0.9v0.9h-0.9zM242.6,66.7h0.9v0.9h-0.9zM287.9,65.3h0.9v0.9h-0.9zM243.5,74.3h0.9v0.9h-0.9zM203.3,69.5h0.9v0.9h-0.9zM200.6,66.0h0.9v0.9h-0.9zM274.2,72.4h0.9v0.9h-0.9zM278.7,65.1h0.9v0.9h-0.9zM251.5,55.2h0.9v0.9h-0.9zM268.8,64.5h0.9v0.9h-0.9zM219.6,68.7h0.9v0.9h-0.9zM250.4,63.8h0.9v0.9h-0.9zM224.5,70.0h0.9v0.9h-0.9zM212.8,71.1h0.9v0.9h-0.9zM292.2,76.8h0.9v0.9h-0.9zM219.7,77.7h0.9v0.9h-0.9zM257.5,57.6h0.9v0.9h-0.9zM250.4,58.1h0.9v0.9h-0.9zM238.2,69.7h0.9v0.9h-0.9zM242.4,75.3h0.9v0.9h-0.9zM209.5,78.8h0.9v0.9h-0.9zM266.5,78.3h0.9v0.9h-0.9zM279.2,58.4h0.9v0.9h-0.9zM208.7,70.2h0.9v0.9h-0.9zM260.1,58.4h0.9v0.9h-0.9zM201.3,58.5h0.9v0.9h-0.9zM199.7,79.2h0.9v0.9h-0.9zM200.7,70.5h0.9v0.9h-0.9zM220.5,84.1h0.9v0.9h-0.9zM198.9,90.6h0.9v0.9h-0.9zM254.8,75.4h0.9v0.9h-0.9zM249.9,56.9h0.9v0.9h-0.9zM263.6,55.3h0.9v0.9h-0.9zM201.1,58.7h0.9v0.9h-0.9zM194.8,73.8h0.9v0.9h-0.9zM274.2,68.5h0.9v0.9h-0.9zM285.3,77.4h0.9v0.9h-0.9zM272.0,74.0h0.9v0.9h-0.9zM221.4,66.5h0.9v0.9h-0.9zM262.4,71.5h0.9v0.9h-0.9zM272.0,58.1h0.9v0.9h-0.9zM252.6,67.7h0.9v0.9h-0.9zM264.7,66.0h0.9v0.9h-0.9zM221.1,86.7h0.9v0.9h-0.9zM204.3,52.4h0.9v0.9h-0.9zM290.0,65.3h0.9v0.9h-0.9zM255.5,70.6h0.9v0.9h-0.9zM231.2,62.0h0.9v0.9h-0.9zM248.1,50.8h0.9v0.9h-0.9zM215.3,88.2h0.9v0.9h-0.9zM274.4,70.2h0.9v0.9h-0.9zM233.6,74.1h0.9v0.9h-0.9zM239.8,76.0h0.9v0.9h-0.9zM201.8,63.4h0.9v0.9h-0.9zM280.8,69.0h0.9v0.9h-0.9zM215.9,62.4h0.9v0.9h-0.9zM195.5,65.5h0.9v0.9h-0.9zM245.0,79.5h0.9v0.9h-0.9zM197.5,58.0h0.9v0.9h-0.9zM227.8,87.2h0.9v0.9h-0.9zM264.6,69.3h0.9v0.9h-0.9zM252.3,63.1h0.9v0.9h-0.9zM282.6,51.6h0.9v0.9h-0.9zM207.7,65.5h0.9v0.9h-0.9zM270.1,86.4h0.9v0.9h-0.9zM234.3,73.4h0.9v0.9h-0.9zM217.5,59.0h0.9v0.9h-0.9zM272.3,69.1h0.9v0.9h-0.9zM259.3,53.2h0.9v0.9h-0.9zM198.3,59.6h0.9v0.9h-0.9zM279.6,84.4h0.9v0.9h-0.9zM262.7,70.8h0.9v0.9h-0.9zM291.2,73.8h0.9v0.9h-0.9zM255.1,54.6h0.9v0.9h-0.9zM289.2,66.2h0.9v0.9h-0.9zM240.8,92.7h0.9v0.9h-0.9zM252.1,78.0h0.9v0.9h-0.9zM247.2,48.4h0.9v0.9h-0.9zM215.4,60.1h0.9v0.9h-0.9zM229.7,71.3h0.9v0.9h-0.9zM196.4,63.2h0.9v0.9h-0.9zM281.3,76.9h0.9v0.9h-0.9zM280.3,65.0h0.9v0.9h-0.9zM203.4,60.4h0.9v0.9h-0.9zM197.3,77.7h0.9v0.9h-0.9zM262.7,69.7h0.9v0.9h-0.9zM233.2,74.2h0.9v0.9h-0.9zM210.9,70.7h0.9v0.9h-0.9zM287.8,71.5h0.9v0.9h-0.9zM262.5,75.6h0.9v0.9h-0.9zM207.6,63.9h0.9v0.9h-0.9zM294.9,68.9h0.9v0.9h-0.9zM224.1,76.0h0.9v0.9h-0.9zM270.8,76.5h0.9v0.9h-0.9zM269.0,66.2h0.9v0.9h-0.9zM237.9,58.0h0.9v0.9h-0.9zM278.0,75.5h0.9v0.9h-0.9zM239.2,76.9h0.9v0.9h-0.9zM273.5,70.1h0.9v0.9h-0.9zM247.8,54.4h0.9v0.9h-0.9zM207.9,70.5h0.9v0.9h-0.9zM271.5,64.5h0.9v0.9h-0.9zM245.2,65.0h0.9v0.9h-0.9zM261.4,73.5h0.9v0.9h-0.9zM255.2,74.1h0.9v0.9h-0.9zM255.0,70.5h0.9v0.9h-0.9zM200.8,81.3h0.9v0.9h-0.9zM270.2,54.4h0.9v0.9h-0.9zM221.7,65.1h0.9v0.9h-0.9zM284.2,58.2h0.9v0.9h-0.9zM279.6,78.6h0.9v0.9h-0.9zM265.0,63.9h0.9v0.9h-0.9zM287.7,68.4h0.9v0.9h-0.9zM198.9,70.4h0.9v0.9h-0.9zM279.4,77.8h0.9v0.9h-0.9zM252.4,62.7h0.9v0.9h-0.9zM227.7,68.2h0.9v0.9h-0.9zM227.2,86.5h0.9v0.9h-0.9zM209.5,56.8h0.9v0.9h-0.9zM210.8,60.8h0.9v0.9h-0.9zM253.9,74.6h0.9v0.9h-0.9zM232.8,82.4h0.9v0.9h-0.9zM235.6,49.5h0.9v0.9h-0.9zM219.1,77.2h0.9v0.9h-0.9zM270.4,75.3h0.9v0.9h-0.9zM194.0,73.1h0.9v0.9h-0.9zM279.7,61.0h0.9v0.9h-0.9zM253.4,65.1h0.9v0.9h-0.9zM213.5,68.8h0.9v0.9h-0.9zM203.0,71.5h0.9v0.9h-0.9zM203.5,77.3h0.9v0.9h-0.9zM199.7,69.9h0.9v0.9h-0.9zM207.5,57.8h0.9v0.9h-0.9zM281.1,69.6h0.9v0.9h-0.9zM238.3,73.2h0.9v0.9h-0.9zM210.1,76.0h0.9v0.9h-0.9zM210.0,66.3h0.9v0.9h-0.9zM211.2,66.2h0.9v0.9h-0.9zM287.8,81.4h0.9v0.9h-0.9zM218.2,72.4h0.9v0.9h-0.9zM250.1,82.6h0.9v0.9h-0.9zM266.5,64.3h0.9v0.9h-0.9zM288.8,74.7h0.9v0.9h-0.9zM263.6,78.9h0.9v0.9h-0.9zM260.7,74.3h0.9v0.9h-0.9zM252.0,81.4h0.9v0.9h-0.9zM274.8,54.6h0.9v0.9h-0.9zM266.6,67.3h0.9v0.9h-0.9zM285.3,51.7h0.9v0.9h-0.9zM280.9,72.5h0.9v0.9h-0.9zM290.1,69.6h0.9v0.9h-0.9zM262.6,51.7h0.9v0.9h-0.9zM201.7,81.4h0.9v0.9h-0.9zM255.5,57.7h0.9v0.9h-0.9zM277.9,59.9h0.9v0.9h-0.9zM212.8,69.0h0.9v0.9h-0.9zM228.6,54.7h0.9v0.9h-0.9zM210.1,80.9h0.9v0.9h-0.9zM241.9,69.5h0.9v0.9h-0.9zM226.0,72.3h0.9v0.9h-0.9zM289.1,61.0h0.9v0.9h-0.9zM284.0,73.9h0.9v0.9h-0.9zM227.7,87.6h0.9v0.9h-0.9zM282.1,66.7h0.9v0.9h-0.9zM223.4,83.2h0.9v0.9h-0.9zM276.4,49.8h0.9v0.9h-0.9zM270.4,76.1h0.9v0.9h-0.9zM203.7,60.6h0.9v0.9h-0.9zM263.2,55.5h0.9v0.9h-0.9zM226.7,71.5h0.9v0.9h-0.9zM250.4,81.6h0.9v0.9h-0.9zM262.5,54.9h0.9v0.9h-0.9zM250.4,86.1h0.9v0.9h-0.9zM199.4,64.5h0.9v0.9h-0.9zM220.2,60.1h0.9v0.9h-0.9zM211.6,58.5h0.9v0.9h-0.9zM217.4,74.7h0.9v0.9h-0.9zM296.5,79.5h0.9v0.9h-0.9zM207.5,62.7h0.9v0.9h-0.9zM209.3,59.8h0.9v0.9h-0.9zM239.7,73.5h0.9v0.9h-0.9zM282.7,61.8h0.9v0.9h-0.9zM256.0,85.7h0.9v0.9h-0.9zM210.6,121.6h0.9v0.9h-0.9zM281.0,121.6h0.9v0.9h-0.9zM248.2,121.6h0.9v0.9h-0.9zM256.2,121.6h0.9v0.9h-0.9zM201.3,121.6h0.9v0.9h-0.9zM287.9,121.6h0.9v0.9h-0.9z" fill="#e58b7c" fill-opacity="0.26"/>
<path d="M194.3,84.4h0.9v0.9h-0.9zM196.1,70.7h0.9v0.9h-0.9zM197.3,59.8h0.9v0.9h-0.9zM193.2,70.9h0.9v0.9h-0.9zM196.9,56.4h0.9v0.9h-0.9zM193.2,79.7h0.9v0.9h-0.9zM197.9,64.1h0.9v0.9h-0.9zM194.8,70.9h0.9v0.9h-0.9zM195.3,66.0h0.9v0.9h-0.9zM194.5,65.1h0.9v0.9h-0.9zM194.8,85.4h0.9v0.9h-0.9zM195.4,70.3h0.9v0.9h-0.9zM193.7,77.7h0.9v0.9h-0.9zM195.6,71.8h0.9v0.9h-0.9zM193.8,67.5h0.9v0.9h-0.9zM194.8,65.5h0.9v0.9h-0.9zM197.1,68.4h0.9v0.9h-0.9zM195.0,66.2h0.9v0.9h-0.9zM196.4,56.6h0.9v0.9h-0.9zM193.7,75.0h0.9v0.9h-0.9zM193.6,74.2h0.9v0.9h-0.9zM193.2,73.0h0.9v0.9h-0.9zM194.0,61.8h0.9v0.9h-0.9zM195.9,67.6h0.9v0.9h-0.9zM195.7,62.2h0.9v0.9h-0.9zM194.1,75.0h0.9v0.9h-0.9zM196.2,64.5h0.9v0.9h-0.9zM235.1,57.6h0.9v0.9h-0.9zM234.4,65.5h0.9v0.9h-0.9zM231.8,63.2h0.9v0.9h-0.9zM237.1,70.2h0.9v0.9h-0.9zM235.8,72.2h0.9v0.9h-0.9zM230.8,65.7h0.9v0.9h-0.9zM233.3,70.8h0.9v0.9h-0.9zM234.6,75.7h0.9v0.9h-0.9zM233.9,67.5h0.9v0.9h-0.9zM231.8,83.5h0.9v0.9h-0.9zM238.1,70.6h0.9v0.9h-0.9zM233.8,60.5h0.9v0.9h-0.9zM233.6,60.4h0.9v0.9h-0.9zM236.2,57.0h0.9v0.9h-0.9zM235.3,71.5h0.9v0.9h-0.9zM234.8,82.2h0.9v0.9h-0.9zM233.8,75.1h0.9v0.9h-0.9zM234.4,72.7h0.9v0.9h-0.9zM236.2,65.4h0.9v0.9h-0.9zM234.7,70.1h0.9v0.9h-0.9zM231.8,75.7h0.9v0.9h-0.9zM234.3,74.4h0.9v0.9h-0.9zM232.2,62.5h0.9v0.9h-0.9zM233.0,68.7h0.9v0.9h-0.9zM236.9,63.3h0.9v0.9h-0.9zM234.7,71.0h0.9v0.9h-0.9zM233.3,67.4h0.9v0.9h-0.9zM234.7,60.2h0.9v0.9h-0.9zM233.6,61.9h0.9v0.9h-0.9zM237.2,75.2h0.9v0.9h-0.9zM235.3,65.3h0.9v0.9h-0.9zM277.0,73.5h0.9v0.9h-0.9zM280.1,61.4h0.9v0.9h-0.9zM276.6,78.5h0.9v0.9h-0.9zM281.7,58.8h0.9v0.9h-0.9zM276.0,79.2h0.9v0.9h-0.9zM279.7,74.4h0.9v0.9h-0.9zM277.9,79.8h0.9v0.9h-0.9zM277.3,71.0h0.9v0.9h-0.9zM277.8,68.5h0.9v0.9h-0.9zM275.5,79.0h0.9v0.9h-0.9zM279.6,80.5h0.9v0.9h-0.9zM281.7,68.2h0.9v0.9h-0.9zM278.6,68.8h0.9v0.9h-0.9zM280.2,77.5h0.9v0.9h-0.9zM280.8,79.4h0.9v0.9h-0.9zM275.8,65.8h0.9v0.9h-0.9zM281.6,61.5h0.9v0.9h-0.9zM279.1,68.2h0.9v0.9h-0.9zM284.5,86.7h0.9v0.9h-0.9zM276.8,64.0h0.9v0.9h-0.9zM282.8,74.5h0.9v0.9h-0.9zM283.5,58.8h0.9v0.9h-0.9zM280.8,72.5h0.9v0.9h-0.9zM276.1,66.9h0.9v0.9h-0.9zM279.8,76.6h0.9v0.9h-0.9zM275.1,67.1h0.9v0.9h-0.9zM279.3,72.7h0.9v0.9h-0.9zM280.2,71.4h0.9v0.9h-0.9zM279.7,64.9h0.9v0.9h-0.9zM279.9,73.1h0.9v0.9h-0.9zM280.8,63.0h0.9v0.9h-0.9zM277.5,46.2h0.9v0.9h-0.9zM279.8,55.9h0.9v0.9h-0.9zM277.3,66.8h0.9v0.9h-0.9zM281.2,72.6h0.9v0.9h-0.9zM277.6,55.7h0.9v0.9h-0.9zM283.3,81.3h0.9v0.9h-0.9zM281.6,60.5h0.9v0.9h-0.9zM275.4,77.9h0.9v0.9h-0.9zM278.7,72.3h0.9v0.9h-0.9zM214.7,53.0h0.9v0.9h-0.9zM220.0,77.7h0.9v0.9h-0.9zM231.9,74.9h0.9v0.9h-0.9zM200.6,73.7h0.9v0.9h-0.9zM289.8,66.1h0.9v0.9h-0.9zM294.8,61.9h0.9v0.9h-0.9zM287.3,81.6h0.9v0.9h-0.9zM213.8,56.0h0.9v0.9h-0.9zM196.3,67.2h0.9v0.9h-0.9zM196.6,69.7h0.9v0.9h-0.9zM287.2,61.5h0.9v0.9h-0.9zM220.9,67.5h0.9v0.9h-0.9zM254.2,54.5h0.9v0.9h-0.9zM281.7,66.2h0.9v0.9h-0.9zM256.3,70.1h0.9v0.9h-0.9zM275.1,71.3h0.9v0.9h-0.9zM225.2,62.0h0.9v0.9h-0.9zM244.9,76.2h0.9v0.9h-0.9zM286.4,68.4h0.9v0.9h-0.9zM254.8,73.3h0.9v0.9h-0.9zM269.4,79.7h0.9v0.9h-0.9zM273.0,61.2h0.9v0.9h-0.9zM239.1,59.8h0.9v0.9h-0.9zM279.4,75.9h0.9v0.9h-0.9zM222.8,48.1h0.9v0.9h-0.9zM235.8,53.0h0.9v0.9h-0.9zM196.3,63.0h0.9v0.9h-0.9zM217.7,63.7h0.9v0.9h-0.9zM279.1,83.9h0.9v0.9h-0.9zM283.0,56.2h0.9v0.9h-0.9zM254.2,89.5h0.9v0.9h-0.9zM268.6,59.5h0.9v0.9h-0.9zM195.8,62.2h0.9v0.9h-0.9zM200.2,51.9h0.9v0.9h-0.9zM225.1,76.2h0.9v0.9h-0.9zM260.8,82.4h0.9v0.9h-0.9zM283.2,74.7h0.9v0.9h-0.9zM245.8,56.5h0.9v0.9h-0.9zM242.7,66.6h0.9v0.9h-0.9zM247.5,76.1h0.9v0.9h-0.9zM216.8,50.9h0.9v0.9h-0.9zM199.8,49.8h0.9v0.9h-0.9zM257.1,60.9h0.9v0.9h-0.9zM212.0,53.0h0.9v0.9h-0.9zM264.0,73.0h0.9v0.9h-0.9zM281.8,67.0h0.9v0.9h-0.9zM229.4,74.4h0.9v0.9h-0.9zM262.6,46.2h0.9v0.9h-0.9zM213.8,68.5h0.9v0.9h-0.9zM285.3,63.5h0.9v0.9h-0.9zM208.1,73.9h0.9v0.9h-0.9zM222.5,63.5h0.9v0.9h-0.9zM195.6,68.1h0.9v0.9h-0.9zM276.8,61.1h0.9v0.9h-0.9zM293.7,81.6h0.9v0.9h-0.9zM209.1,68.4h0.9v0.9h-0.9zM278.4,52.5h0.9v0.9h-0.9zM207.7,52.8h0.9v0.9h-0.9zM244.7,65.0h0.9v0.9h-0.9zM208.0,90.4h0.9v0.9h-0.9zM294.8,52.7h0.9v0.9h-0.9zM254.8,66.1h0.9v0.9h-0.9zM195.0,91.8h0.9v0.9h-0.9zM236.7,78.7h0.9v0.9h-0.9zM256.3,79.6h0.9v0.9h-0.9zM215.7,60.0h0.9v0.9h-0.9zM295.4,76.7h0.9v0.9h-0.9zM211.4,77.9h0.9v0.9h-0.9zM268.5,72.0h0.9v0.9h-0.9zM208.5,62.3h0.9v0.9h-0.9zM256.2,52.7h0.9v0.9h-0.9zM222.8,73.2h0.9v0.9h-0.9zM236.0,63.3h0.9v0.9h-0.9zM229.0,62.2h0.9v0.9h-0.9zM247.6,56.4h0.9v0.9h-0.9zM197.4,72.6h0.9v0.9h-0.9zM238.2,79.5h0.9v0.9h-0.9z" fill="#96a6d0" fill-opacity="0.26"/>
<line x1="174.5" y1="45.5" x2="174.5" y2="125.1" stroke="#231f20" stroke-width="1.1" />
<path d="M172.0,115.2 L177.0,112.8 L177.0,114.8 L172.0,117.2Z" fill="#fff"/>
<path d="M172.0,115.2 L177.0,112.8 M172.0,117.2 L177.0,114.8" stroke="#231f20" stroke-width="1.0" fill="none" />
<line x1="171.4" y1="59.25" x2="174.5" y2="59.25" stroke="#231f20" stroke-width="1.0" />
<text x="169.0" y="62.05" font-size="8.5" text-anchor="end" font-weight="normal" fill="#231f20" >3</text>
<line x1="171.4" y1="80.19999999999999" x2="174.5" y2="80.19999999999999" stroke="#231f20" stroke-width="1.0" />
<text x="169.0" y="82.99999999999999" font-size="8.5" text-anchor="end" font-weight="normal" fill="#231f20" >2</text>
<line x1="171.4" y1="101.14999999999999" x2="174.5" y2="101.14999999999999" stroke="#231f20" stroke-width="1.0" />
<text x="169.0" y="103.94999999999999" font-size="8.5" text-anchor="end" font-weight="normal" fill="#231f20" >1</text>
<line x1="171.4" y1="122.1" x2="174.5" y2="122.1" stroke="#231f20" stroke-width="1.0" />
<text x="169.0" y="124.89999999999999" font-size="8.5" text-anchor="end" font-weight="normal" fill="#231f20" >0</text>
<line x1="173.95" y1="124.9" x2="298" y2="124.9" stroke="#231f20" stroke-width="1.1" />
<line x1="180.6" y1="124.9" x2="180.6" y2="128.2" stroke="#231f20" stroke-width="1.0" />
<text x="180.79999999999998" y="137.8" font-size="8.6" text-anchor="middle" font-weight="normal" fill="#231f20" textLength="4.2" lengthAdjust="spacingAndGlyphs" >0</text>
<line x1="208.525" y1="124.9" x2="208.525" y2="128.2" stroke="#231f20" stroke-width="1.0" />
<text x="208.725" y="137.8" font-size="8.6" text-anchor="middle" font-weight="normal" fill="#231f20" textLength="8.6" lengthAdjust="spacingAndGlyphs" >50</text>
<line x1="236.45" y1="124.9" x2="236.45" y2="128.2" stroke="#231f20" stroke-width="1.0" />
<text x="236.64999999999998" y="137.8" font-size="8.6" text-anchor="middle" font-weight="normal" fill="#231f20" textLength="12.2" lengthAdjust="spacingAndGlyphs" >100</text>
<line x1="264.375" y1="124.9" x2="264.375" y2="128.2" stroke="#231f20" stroke-width="1.0" />
<text x="264.575" y="137.8" font-size="8.6" text-anchor="middle" font-weight="normal" fill="#231f20" textLength="12.2" lengthAdjust="spacingAndGlyphs" >150</text>
<line x1="292.3" y1="124.9" x2="292.3" y2="128.2" stroke="#231f20" stroke-width="1.0" />
<text x="292.5" y="137.8" font-size="8.6" text-anchor="middle" font-weight="normal" fill="#231f20" textLength="12.2" lengthAdjust="spacingAndGlyphs" >200</text>
<text x="203.9" y="151.0" font-size="9.6" text-anchor="start" font-weight="normal" fill="#231f20" textLength="65.0" lengthAdjust="spacingAndGlyphs" >Day from transplant</text>
<path d="M192.3,65.2 C215,68.2 250,70.8 298,72.1 L298,74.1 C250,72.9 215,70.8 193.8,70.2 Z" fill="#bbb" fill-opacity="0.45"/>
<path d="M193.8,68.8 C212,69.8 250,71.9 298,73.0" stroke="#6286bb" stroke-width="1.3" fill="none" />
<path d="M192.3,66.4 C215,69.3 250,71.8 298,73.1" stroke="#cf5a56" stroke-width="1.3" fill="none" />
<ellipse cx="320.75" cy="12.2" rx="3.65" ry="3.2" fill="none" stroke="#000" stroke-width="2.0"/>
<text x="347.8" y="28.2" font-size="9.4" text-anchor="start" font-weight="normal" fill="#231f20" textLength="14.2" lengthAdjust="spacingAndGlyphs" style="stroke-width:0.36px">BM</text>
<text x="407.9" y="28.2" font-size="9.4" text-anchor="start" font-weight="normal" fill="#231f20" textLength="22.6" lengthAdjust="spacingAndGlyphs" style="stroke-width:0.36px">PBSC</text>
<text x="455.4" y="28.2" font-size="9.4" text-anchor="start" font-weight="normal" fill="#231f20" textLength="55.3" lengthAdjust="spacingAndGlyphs" style="stroke-width:0.36px">PBSC CD34+</text>
<line x1="327" y1="65.5" x2="386" y2="65.5" stroke="#b0b0b0" stroke-width="1.0" stroke-dasharray="1.1,1.6"/>
<line x1="327" y1="82.4" x2="386" y2="82.4" stroke="#b0b0b0" stroke-width="1.0" stroke-dasharray="1.1,1.6"/>
<line x1="390" y1="65.5" x2="448" y2="65.5" stroke="#b0b0b0" stroke-width="1.0" stroke-dasharray="1.1,1.6"/>
<line x1="390" y1="82.4" x2="448" y2="82.4" stroke="#b0b0b0" stroke-width="1.0" stroke-dasharray="1.1,1.6"/>
<line x1="450" y1="65.5" x2="511" y2="65.5" stroke="#b0b0b0" stroke-width="1.0" stroke-dasharray="1.1,1.6"/>
<line x1="450" y1="82.4" x2="511" y2="82.4" stroke="#b0b0b0" stroke-width="1.0" stroke-dasharray="1.1,1.6"/>
<text x="498.3" y="64.5" font-size="6.6" text-anchor="start" font-weight="normal" fill="#231f20" textLength="11.3" lengthAdjust="spacingAndGlyphs" style="stroke-width:0.1px">ULN</text>
<text x="499.0" y="81.2" font-size="6.6" text-anchor="start" font-weight="normal" fill="#231f20" textLength="10.4" lengthAdjust="spacingAndGlyphs" style="stroke-width:0.1px">LLN</text>
<path d="M335.5,77.0h0.9v0.9h-0.9zM336.7,61.3h0.9v0.9h-0.9zM335.3,78.4h0.9v0.9h-0.9zM336.2,74.4h0.9v0.9h-0.9zM337.3,71.6h0.9v0.9h-0.9zM355.3,62.6h0.9v0.9h-0.9zM355.7,54.6h0.9v0.9h-0.9zM354.2,59.7h0.9v0.9h-0.9zM354.1,67.3h0.9v0.9h-0.9zM354.2,61.7h0.9v0.9h-0.9zM352.4,87.0h0.9v0.9h-0.9zM376.2,54.1h0.9v0.9h-0.9zM377.5,70.3h0.9v0.9h-0.9zM378.3,67.3h0.9v0.9h-0.9zM378.5,84.6h0.9v0.9h-0.9zM378.7,75.2h0.9v0.9h-0.9zM366.3,73.1h0.9v0.9h-0.9zM342.7,94.8h0.9v0.9h-0.9zM374.5,67.3h0.9v0.9h-0.9zM368.9,62.2h0.9v0.9h-0.9zM345.1,72.2h0.9v0.9h-0.9zM377.8,62.3h0.9v0.9h-0.9zM366.6,64.7h0.9v0.9h-0.9zM373.2,53.3h0.9v0.9h-0.9zM359.8,53.7h0.9v0.9h-0.9z" fill="#e58b7c" fill-opacity="0.28"/>
<path d="M337.6,73.3h0.9v0.9h-0.9zM377.9,55.4h0.9v0.9h-0.9zM347.1,52.4h0.9v0.9h-0.9z" fill="#96a6d0" fill-opacity="0.28"/>
<path d="M398.4,66.7h0.9v0.9h-0.9zM398.0,74.1h0.9v0.9h-0.9zM396.4,68.2h0.9v0.9h-0.9zM397.9,90.6h0.9v0.9h-0.9zM399.3,72.3h0.9v0.9h-0.9zM397.4,52.9h0.9v0.9h-0.9zM397.6,70.1h0.9v0.9h-0.9zM399.4,76.6h0.9v0.9h-0.9zM399.0,60.0h0.9v0.9h-0.9zM398.0,75.6h0.9v0.9h-0.9zM396.8,57.4h0.9v0.9h-0.9zM417.1,83.5h0.9v0.9h-0.9zM417.3,60.5h0.9v0.9h-0.9zM416.0,71.2h0.9v0.9h-0.9zM418.2,70.2h0.9v0.9h-0.9zM419.0,49.5h0.9v0.9h-0.9zM417.7,64.1h0.9v0.9h-0.9zM414.7,59.6h0.9v0.9h-0.9zM416.8,65.3h0.9v0.9h-0.9zM415.2,77.6h0.9v0.9h-0.9zM415.9,68.3h0.9v0.9h-0.9zM416.6,47.8h0.9v0.9h-0.9zM416.2,84.6h0.9v0.9h-0.9zM416.5,61.5h0.9v0.9h-0.9zM420.4,62.0h0.9v0.9h-0.9zM416.5,59.9h0.9v0.9h-0.9zM416.4,80.4h0.9v0.9h-0.9zM418.2,80.4h0.9v0.9h-0.9zM418.5,67.6h0.9v0.9h-0.9zM419.1,67.6h0.9v0.9h-0.9zM418.1,58.7h0.9v0.9h-0.9zM417.4,65.5h0.9v0.9h-0.9zM418.6,57.9h0.9v0.9h-0.9zM437.8,69.7h0.9v0.9h-0.9zM440.9,61.7h0.9v0.9h-0.9zM441.2,83.4h0.9v0.9h-0.9zM444.8,68.6h0.9v0.9h-0.9zM435.9,63.9h0.9v0.9h-0.9zM440.4,66.1h0.9v0.9h-0.9zM440.3,65.4h0.9v0.9h-0.9zM438.0,60.1h0.9v0.9h-0.9zM442.1,59.4h0.9v0.9h-0.9zM439.1,42.0h0.9v0.9h-0.9zM437.6,79.7h0.9v0.9h-0.9zM439.5,60.5h0.9v0.9h-0.9zM438.4,82.2h0.9v0.9h-0.9zM440.9,72.4h0.9v0.9h-0.9zM441.1,56.7h0.9v0.9h-0.9zM441.7,71.5h0.9v0.9h-0.9zM434.8,70.9h0.9v0.9h-0.9zM402.6,85.3h0.9v0.9h-0.9zM428.3,75.7h0.9v0.9h-0.9zM406.6,68.8h0.9v0.9h-0.9zM413.8,68.5h0.9v0.9h-0.9zM407.3,86.5h0.9v0.9h-0.9zM446.2,73.0h0.9v0.9h-0.9zM401.1,55.1h0.9v0.9h-0.9zM446.6,67.7h0.9v0.9h-0.9zM417.7,87.5h0.9v0.9h-0.9zM429.7,81.4h0.9v0.9h-0.9zM417.9,70.9h0.9v0.9h-0.9zM428.3,86.9h0.9v0.9h-0.9zM416.2,58.9h0.9v0.9h-0.9zM420.9,67.0h0.9v0.9h-0.9zM421.7,61.3h0.9v0.9h-0.9zM409.3,60.3h0.9v0.9h-0.9zM426.1,74.0h0.9v0.9h-0.9zM399.1,68.2h0.9v0.9h-0.9z" fill="#e58b7c" fill-opacity="0.28"/>
<path d="M399.7,66.1h0.9v0.9h-0.9zM398.1,60.5h0.9v0.9h-0.9zM398.1,65.4h0.9v0.9h-0.9zM400.0,65.1h0.9v0.9h-0.9zM418.0,76.2h0.9v0.9h-0.9zM419.5,50.6h0.9v0.9h-0.9zM417.7,81.2h0.9v0.9h-0.9zM416.9,64.4h0.9v0.9h-0.9zM416.4,72.0h0.9v0.9h-0.9zM418.7,74.9h0.9v0.9h-0.9zM415.4,65.2h0.9v0.9h-0.9zM416.4,70.9h0.9v0.9h-0.9zM441.7,69.4h0.9v0.9h-0.9zM437.3,67.1h0.9v0.9h-0.9zM441.4,70.4h0.9v0.9h-0.9zM420.8,95.8h0.9v0.9h-0.9zM419.9,64.8h0.9v0.9h-0.9zM436.3,59.7h0.9v0.9h-0.9zM442.5,71.6h0.9v0.9h-0.9zM432.5,65.9h0.9v0.9h-0.9zM398.3,70.1h0.9v0.9h-0.9zM425.2,58.8h0.9v0.9h-0.9z" fill="#96a6d0" fill-opacity="0.28"/>
<path d="M460.8,80.7h0.9v0.9h-0.9zM459.7,61.7h0.9v0.9h-0.9zM459.9,73.0h0.9v0.9h-0.9zM460.1,79.6h0.9v0.9h-0.9zM459.6,61.1h0.9v0.9h-0.9zM459.9,67.8h0.9v0.9h-0.9zM460.7,73.8h0.9v0.9h-0.9zM460.4,60.3h0.9v0.9h-0.9zM460.4,69.7h0.9v0.9h-0.9zM460.4,69.3h0.9v0.9h-0.9zM460.4,79.4h0.9v0.9h-0.9zM460.4,67.6h0.9v0.9h-0.9zM460.1,66.3h0.9v0.9h-0.9zM459.9,48.3h0.9v0.9h-0.9zM461.6,54.6h0.9v0.9h-0.9zM461.1,74.9h0.9v0.9h-0.9zM460.0,77.6h0.9v0.9h-0.9zM460.4,63.6h0.9v0.9h-0.9zM460.4,69.7h0.9v0.9h-0.9zM460.3,73.7h0.9v0.9h-0.9zM461.2,82.2h0.9v0.9h-0.9zM460.5,77.2h0.9v0.9h-0.9zM460.7,61.2h0.9v0.9h-0.9zM460.0,65.4h0.9v0.9h-0.9zM460.1,65.3h0.9v0.9h-0.9zM460.6,89.4h0.9v0.9h-0.9zM460.0,82.0h0.9v0.9h-0.9zM461.0,66.7h0.9v0.9h-0.9zM460.8,60.1h0.9v0.9h-0.9zM461.0,75.3h0.9v0.9h-0.9zM460.2,67.4h0.9v0.9h-0.9zM459.9,60.2h0.9v0.9h-0.9zM460.5,68.6h0.9v0.9h-0.9zM461.3,76.1h0.9v0.9h-0.9zM460.2,73.9h0.9v0.9h-0.9zM460.9,56.6h0.9v0.9h-0.9zM461.1,77.8h0.9v0.9h-0.9zM461.1,59.5h0.9v0.9h-0.9zM460.0,69.8h0.9v0.9h-0.9zM459.1,48.9h0.9v0.9h-0.9zM461.0,59.7h0.9v0.9h-0.9zM460.8,66.4h0.9v0.9h-0.9zM461.8,77.7h0.9v0.9h-0.9zM459.5,62.0h0.9v0.9h-0.9zM459.9,51.6h0.9v0.9h-0.9zM461.6,59.8h0.9v0.9h-0.9zM460.2,55.1h0.9v0.9h-0.9zM461.9,58.0h0.9v0.9h-0.9zM460.4,55.6h0.9v0.9h-0.9zM461.2,84.8h0.9v0.9h-0.9zM461.1,68.9h0.9v0.9h-0.9zM460.4,65.1h0.9v0.9h-0.9zM461.5,73.5h0.9v0.9h-0.9zM459.7,59.5h0.9v0.9h-0.9zM460.5,62.3h0.9v0.9h-0.9zM460.1,75.4h0.9v0.9h-0.9zM461.2,74.7h0.9v0.9h-0.9zM460.3,68.1h0.9v0.9h-0.9zM460.9,65.3h0.9v0.9h-0.9zM461.0,76.2h0.9v0.9h-0.9zM459.9,72.5h0.9v0.9h-0.9zM460.9,64.8h0.9v0.9h-0.9zM460.4,67.1h0.9v0.9h-0.9zM460.5,64.9h0.9v0.9h-0.9zM459.8,73.1h0.9v0.9h-0.9zM459.5,68.2h0.9v0.9h-0.9zM460.6,78.3h0.9v0.9h-0.9zM460.9,81.1h0.9v0.9h-0.9zM459.5,76.9h0.9v0.9h-0.9zM460.0,69.6h0.9v0.9h-0.9zM460.4,62.0h0.9v0.9h-0.9zM460.6,75.3h0.9v0.9h-0.9zM460.6,72.5h0.9v0.9h-0.9zM479.6,65.2h0.9v0.9h-0.9zM480.3,74.1h0.9v0.9h-0.9zM478.0,66.1h0.9v0.9h-0.9zM478.2,69.1h0.9v0.9h-0.9zM479.0,76.1h0.9v0.9h-0.9zM480.2,84.1h0.9v0.9h-0.9zM478.8,86.0h0.9v0.9h-0.9zM480.0,71.2h0.9v0.9h-0.9zM481.2,72.1h0.9v0.9h-0.9zM480.4,71.5h0.9v0.9h-0.9zM479.0,72.6h0.9v0.9h-0.9zM479.6,81.0h0.9v0.9h-0.9zM480.2,77.1h0.9v0.9h-0.9zM479.3,60.3h0.9v0.9h-0.9zM479.3,58.8h0.9v0.9h-0.9zM479.6,56.5h0.9v0.9h-0.9zM479.1,70.0h0.9v0.9h-0.9zM480.3,55.2h0.9v0.9h-0.9zM480.3,56.8h0.9v0.9h-0.9zM480.1,55.9h0.9v0.9h-0.9zM479.5,81.6h0.9v0.9h-0.9zM480.1,70.9h0.9v0.9h-0.9zM478.3,60.7h0.9v0.9h-0.9zM478.9,55.7h0.9v0.9h-0.9zM479.5,46.9h0.9v0.9h-0.9zM480.5,79.7h0.9v0.9h-0.9zM479.4,74.4h0.9v0.9h-0.9zM479.9,63.1h0.9v0.9h-0.9zM478.5,64.5h0.9v0.9h-0.9zM479.8,52.1h0.9v0.9h-0.9zM479.4,66.8h0.9v0.9h-0.9zM481.3,62.3h0.9v0.9h-0.9zM480.0,61.0h0.9v0.9h-0.9zM478.5,70.8h0.9v0.9h-0.9zM479.8,55.0h0.9v0.9h-0.9zM479.7,73.3h0.9v0.9h-0.9zM481.5,57.0h0.9v0.9h-0.9zM479.4,71.6h0.9v0.9h-0.9zM480.1,76.0h0.9v0.9h-0.9zM479.4,56.5h0.9v0.9h-0.9zM480.0,60.9h0.9v0.9h-0.9zM478.1,73.5h0.9v0.9h-0.9zM479.0,55.7h0.9v0.9h-0.9zM479.6,63.5h0.9v0.9h-0.9zM478.8,74.7h0.9v0.9h-0.9zM480.1,78.1h0.9v0.9h-0.9zM480.6,84.6h0.9v0.9h-0.9zM478.8,64.8h0.9v0.9h-0.9zM479.4,77.7h0.9v0.9h-0.9zM479.3,62.4h0.9v0.9h-0.9zM481.2,64.8h0.9v0.9h-0.9zM480.7,59.9h0.9v0.9h-0.9zM479.0,58.8h0.9v0.9h-0.9zM480.4,65.9h0.9v0.9h-0.9zM478.2,63.8h0.9v0.9h-0.9zM479.0,64.9h0.9v0.9h-0.9zM479.7,69.2h0.9v0.9h-0.9zM478.1,77.0h0.9v0.9h-0.9zM479.0,67.6h0.9v0.9h-0.9zM479.7,96.2h0.9v0.9h-0.9zM479.6,49.8h0.9v0.9h-0.9zM480.8,83.4h0.9v0.9h-0.9zM479.4,51.5h0.9v0.9h-0.9zM478.4,65.3h0.9v0.9h-0.9zM479.9,55.8h0.9v0.9h-0.9zM478.4,61.3h0.9v0.9h-0.9zM478.0,54.5h0.9v0.9h-0.9zM478.8,68.2h0.9v0.9h-0.9zM477.0,74.8h0.9v0.9h-0.9zM504.1,70.4h0.9v0.9h-0.9zM504.4,62.3h0.9v0.9h-0.9zM504.1,70.5h0.9v0.9h-0.9zM501.2,61.6h0.9v0.9h-0.9zM502.8,52.2h0.9v0.9h-0.9zM504.0,69.1h0.9v0.9h-0.9zM504.0,52.4h0.9v0.9h-0.9zM505.0,58.0h0.9v0.9h-0.9zM504.1,74.8h0.9v0.9h-0.9zM503.7,56.7h0.9v0.9h-0.9zM502.1,63.5h0.9v0.9h-0.9zM503.3,58.8h0.9v0.9h-0.9zM504.9,79.8h0.9v0.9h-0.9zM502.5,58.4h0.9v0.9h-0.9zM503.5,47.8h0.9v0.9h-0.9zM504.1,69.5h0.9v0.9h-0.9zM501.6,66.6h0.9v0.9h-0.9zM505.5,76.9h0.9v0.9h-0.9zM502.7,77.8h0.9v0.9h-0.9zM502.9,61.2h0.9v0.9h-0.9zM502.8,64.1h0.9v0.9h-0.9zM503.1,73.9h0.9v0.9h-0.9zM505.1,66.8h0.9v0.9h-0.9zM503.3,64.6h0.9v0.9h-0.9zM501.2,68.9h0.9v0.9h-0.9zM503.7,77.6h0.9v0.9h-0.9zM499.0,70.4h0.9v0.9h-0.9zM501.8,61.0h0.9v0.9h-0.9zM482.7,61.2h0.9v0.9h-0.9zM493.3,64.1h0.9v0.9h-0.9zM459.8,59.6h0.9v0.9h-0.9zM471.2,69.0h0.9v0.9h-0.9zM467.1,77.4h0.9v0.9h-0.9zM463.2,61.9h0.9v0.9h-0.9zM462.3,61.2h0.9v0.9h-0.9zM486.6,71.8h0.9v0.9h-0.9zM499.5,53.0h0.9v0.9h-0.9zM479.9,71.9h0.9v0.9h-0.9zM489.6,74.0h0.9v0.9h-0.9zM486.0,78.2h0.9v0.9h-0.9zM481.0,71.1h0.9v0.9h-0.9zM486.0,59.2h0.9v0.9h-0.9zM487.8,81.7h0.9v0.9h-0.9zM481.6,79.1h0.9v0.9h-0.9zM499.1,80.0h0.9v0.9h-0.9zM495.0,75.3h0.9v0.9h-0.9zM471.2,54.2h0.9v0.9h-0.9zM483.9,69.3h0.9v0.9h-0.9zM473.5,65.4h0.9v0.9h-0.9zM507.5,76.0h0.9v0.9h-0.9zM483.0,78.2h0.9v0.9h-0.9zM479.4,72.6h0.9v0.9h-0.9zM491.8,79.5h0.9v0.9h-0.9zM488.6,51.5h0.9v0.9h-0.9zM510.2,78.5h0.9v0.9h-0.9zM464.2,83.9h0.9v0.9h-0.9zM485.0,34.5h0.9v0.9h-0.9zM458.7,76.7h0.9v0.9h-0.9zM497.4,54.7h0.9v0.9h-0.9zM462.0,64.5h0.9v0.9h-0.9zM499.4,68.7h0.9v0.9h-0.9z" fill="#d9806f" fill-opacity="0.42"/>
<path d="M461.3,70.0h0.9v0.9h-0.9zM459.9,75.1h0.9v0.9h-0.9zM460.8,69.1h0.9v0.9h-0.9zM461.3,76.8h0.9v0.9h-0.9zM459.7,62.8h0.9v0.9h-0.9zM460.4,56.2h0.9v0.9h-0.9zM461.2,54.9h0.9v0.9h-0.9zM459.3,68.1h0.9v0.9h-0.9zM460.1,69.3h0.9v0.9h-0.9zM460.3,62.1h0.9v0.9h-0.9zM461.4,64.3h0.9v0.9h-0.9zM461.3,58.9h0.9v0.9h-0.9zM460.3,63.1h0.9v0.9h-0.9zM460.6,71.6h0.9v0.9h-0.9zM459.2,60.8h0.9v0.9h-0.9zM460.3,80.1h0.9v0.9h-0.9zM462.5,70.7h0.9v0.9h-0.9zM480.1,53.7h0.9v0.9h-0.9zM479.2,60.4h0.9v0.9h-0.9zM480.3,67.2h0.9v0.9h-0.9zM479.7,75.3h0.9v0.9h-0.9zM479.2,73.9h0.9v0.9h-0.9zM478.8,63.0h0.9v0.9h-0.9zM480.5,49.1h0.9v0.9h-0.9zM480.1,62.3h0.9v0.9h-0.9zM478.6,59.6h0.9v0.9h-0.9zM479.9,66.5h0.9v0.9h-0.9zM478.4,74.6h0.9v0.9h-0.9zM506.3,66.6h0.9v0.9h-0.9zM502.0,73.4h0.9v0.9h-0.9zM489.4,59.9h0.9v0.9h-0.9zM468.7,61.1h0.9v0.9h-0.9zM469.4,64.6h0.9v0.9h-0.9zM507.0,47.6h0.9v0.9h-0.9zM497.2,53.3h0.9v0.9h-0.9zM505.1,90.1h0.9v0.9h-0.9zM503.0,71.3h0.9v0.9h-0.9zM465.9,65.1h0.9v0.9h-0.9zM500.1,63.5h0.9v0.9h-0.9zM475.3,83.1h0.9v0.9h-0.9zM500.6,51.7h0.9v0.9h-0.9zM478.1,62.2h0.9v0.9h-0.9z" fill="#96a6d0" fill-opacity="0.42"/>
<line x1="326.0" y1="45.6" x2="326.0" y2="125.3" stroke="#231f20" stroke-width="1.1" />
<path d="M323.5,115.2 L328.5,112.8 L328.5,114.8 L323.5,117.2Z" fill="#fff"/>
<path d="M323.5,115.2 L328.5,112.8 M323.5,117.2 L328.5,114.8" stroke="#231f20" stroke-width="1.0" fill="none" />
<line x1="322.8" y1="59.00000000000001" x2="326.0" y2="59.00000000000001" stroke="#231f20" stroke-width="1.0" />
<text x="320.5" y="61.800000000000004" font-size="8.5" text-anchor="end" font-weight="normal" fill="#231f20" >3</text>
<line x1="322.8" y1="79.9" x2="326.0" y2="79.9" stroke="#231f20" stroke-width="1.0" />
<text x="320.5" y="82.7" font-size="8.5" text-anchor="end" font-weight="normal" fill="#231f20" >2</text>
<line x1="322.8" y1="100.80000000000001" x2="326.0" y2="100.80000000000001" stroke="#231f20" stroke-width="1.0" />
<text x="320.5" y="103.60000000000001" font-size="8.5" text-anchor="end" font-weight="normal" fill="#231f20" >1</text>
<line x1="322.8" y1="121.7" x2="326.0" y2="121.7" stroke="#231f20" stroke-width="1.0" />
<text x="320.5" y="124.5" font-size="8.5" text-anchor="end" font-weight="normal" fill="#231f20" >0</text>
<line x1="325.45" y1="125.2" x2="386.0" y2="125.2" stroke="#231f20" stroke-width="1.1" />
<line x1="328.6" y1="125.2" x2="328.6" y2="128.5" stroke="#231f20" stroke-width="1.0" />
<text transform="translate(332.8,135.2) rotate(-45)" font-size="7.6" text-anchor="end" fill="#231f20">0</text>
<line x1="342.375" y1="125.2" x2="342.375" y2="128.5" stroke="#231f20" stroke-width="1.0" />
<text transform="translate(346.575,135.2) rotate(-45)" font-size="7.6" text-anchor="end" fill="#231f20">50</text>
<line x1="356.15000000000003" y1="125.2" x2="356.15000000000003" y2="128.5" stroke="#231f20" stroke-width="1.0" />
<text transform="translate(360.35,135.2) rotate(-45)" font-size="7.6" text-anchor="end" fill="#231f20">100</text>
<line x1="369.925" y1="125.2" x2="369.925" y2="128.5" stroke="#231f20" stroke-width="1.0" />
<text transform="translate(374.125,135.2) rotate(-45)" font-size="7.6" text-anchor="end" fill="#231f20">150</text>
<line x1="383.70000000000005" y1="125.2" x2="383.70000000000005" y2="128.5" stroke="#231f20" stroke-width="1.0" />
<text transform="translate(387.90000000000003,135.2) rotate(-45)" font-size="7.6" text-anchor="end" fill="#231f20">200</text>
<line x1="388.3" y1="125.2" x2="448.6" y2="125.2" stroke="#231f20" stroke-width="1.1" />
<line x1="390.8" y1="125.2" x2="390.8" y2="128.5" stroke="#231f20" stroke-width="1.0" />
<text transform="translate(395.0,135.2) rotate(-45)" font-size="7.6" text-anchor="end" fill="#231f20">0</text>
<line x1="404.575" y1="125.2" x2="404.575" y2="128.5" stroke="#231f20" stroke-width="1.0" />
<text transform="translate(408.775,135.2) rotate(-45)" font-size="7.6" text-anchor="end" fill="#231f20">50</text>
<line x1="418.35" y1="125.2" x2="418.35" y2="128.5" stroke="#231f20" stroke-width="1.0" />
<text transform="translate(422.55,135.2) rotate(-45)" font-size="7.6" text-anchor="end" fill="#231f20">100</text>
<line x1="432.125" y1="125.2" x2="432.125" y2="128.5" stroke="#231f20" stroke-width="1.0" />
<text transform="translate(436.325,135.2) rotate(-45)" font-size="7.6" text-anchor="end" fill="#231f20">150</text>
<line x1="445.90000000000003" y1="125.2" x2="445.90000000000003" y2="128.5" stroke="#231f20" stroke-width="1.0" />
<text transform="translate(450.1,135.2) rotate(-45)" font-size="7.6" text-anchor="end" fill="#231f20">200</text>
<line x1="451.1" y1="125.2" x2="512.5" y2="125.2" stroke="#231f20" stroke-width="1.1" />
<line x1="453.4" y1="125.2" x2="453.4" y2="128.5" stroke="#231f20" stroke-width="1.0" />
<text transform="translate(457.59999999999997,135.2) rotate(-45)" font-size="7.6" text-anchor="end" fill="#231f20">0</text>
<line x1="467.17499999999995" y1="125.2" x2="467.17499999999995" y2="128.5" stroke="#231f20" stroke-width="1.0" />
<text transform="translate(471.37499999999994,135.2) rotate(-45)" font-size="7.6" text-anchor="end" fill="#231f20">50</text>
<line x1="480.95" y1="125.2" x2="480.95" y2="128.5" stroke="#231f20" stroke-width="1.0" />
<text transform="translate(485.15,135.2) rotate(-45)" font-size="7.6" text-anchor="end" fill="#231f20">100</text>
<line x1="494.72499999999997" y1="125.2" x2="494.72499999999997" y2="128.5" stroke="#231f20" stroke-width="1.0" />
<text transform="translate(498.92499999999995,135.2) rotate(-45)" font-size="7.6" text-anchor="end" fill="#231f20">150</text>
<line x1="508.5" y1="125.2" x2="508.5" y2="128.5" stroke="#231f20" stroke-width="1.0" />
<text transform="translate(512.7,135.2) rotate(-45)" font-size="7.6" text-anchor="end" fill="#231f20">200</text>
<text x="386.2" y="157.2" font-size="9.6" text-anchor="start" font-weight="normal" fill="#231f20" textLength="65.2" lengthAdjust="spacingAndGlyphs" >Day from transplant</text>
<path d="M336.1,71.2 C352,70.6 370,69.6 386.2,69.2 L386.2,75.5 C370,77 352,79.2 336.1,80.6 Z" fill="#b8b8b8" fill-opacity="0.5"/>
<path d="M340.3,71.5 C355,71.5 372,70.5 386.2,70.6 L386.2,80.8 C378,79.5 368,80 362,80.6 C355,82 347,85 340.3,90.7 Z" fill="#b8b8b8" fill-opacity="0.5"/>
<path d="M336,75.9 C352,74.6 370,72.5 386.2,71.5" stroke="#6286bb" stroke-width="1.4" fill="none" />
<path d="M340.2,80.5 C352,78.2 368,75 378.5,74.4 C382,74.3 384,74.9 386,75.6" stroke="#d45752" stroke-width="1.4" fill="none" />
<path d="M397.2,65.8 C410,70 425,73 448.3,73.5 L448.3,77.6 C425,77.6 410,77.2 397.2,76.5 Z" fill="#c4c4c4" fill-opacity="0.75"/>
<path d="M397.2,72.3 C408,73.8 420,74.6 448.3,75.8" stroke="#6286bb" stroke-width="1.4" fill="none" />
<path d="M397.2,69.8 C410,72.2 420,74.2 448.3,75.8" stroke="#d45752" stroke-width="1.4" fill="none" />
<path d="M460.4,62.8 C480,66.5 495,69 510.7,69.6 L510.7,73 C495,71.5 480,69 460.4,66.8 Z" fill="#bdbdbd" fill-opacity="0.6"/>
<path d="M460.4,65.7 C480,67.9 495,69.8 510.7,70.7" stroke="#6286bb" stroke-width="1.4" fill="none" />
<path d="M460.4,65.0 C480,68.2 495,70.7 510.7,72.1" stroke="#c44a46" stroke-width="1.4" fill="none" />
<text x="7.1" y="177.5" font-size="11.2" text-anchor="start" font-weight="bold" fill="#000" textLength="6.9" lengthAdjust="spacingAndGlyphs" style="stroke:#000;stroke-width:0.55px">P</text>
<text x="52.0" y="185.8" font-size="8.8" text-anchor="start" font-weight="normal" fill="#231f20" textLength="72" lengthAdjust="spacingAndGlyphs" >R=0.74, <tspan font-style="italic">p</tspan>=&lt;2.2e-16</text>
<path d="M35.7,286.045 L144.114,208.06750000000002 L144.114,203.35000000000002 L35.7,279.94 Z" fill="#d6d2c6" fill-opacity="0.8"/>
<path d="M84.2,247.9h1.5v1.5h-1.5zM82.0,239.4h1.5v1.5h-1.5zM86.0,216.8h1.5v1.5h-1.5zM78.4,259.7h1.5v1.5h-1.5zM72.9,242.9h1.5v1.5h-1.5zM76.0,231.3h1.5v1.5h-1.5zM83.8,231.0h1.5v1.5h-1.5zM113.0,223.5h1.5v1.5h-1.5zM100.1,214.1h1.5v1.5h-1.5zM66.4,253.4h1.5v1.5h-1.5zM137.5,215.0h1.5v1.5h-1.5zM98.6,233.5h1.5v1.5h-1.5zM121.6,240.2h1.5v1.5h-1.5zM92.0,223.8h1.5v1.5h-1.5zM126.2,230.7h1.5v1.5h-1.5zM109.2,227.8h1.5v1.5h-1.5zM109.1,203.1h1.5v1.5h-1.5zM68.9,263.2h1.5v1.5h-1.5zM94.3,264.6h1.5v1.5h-1.5zM64.5,257.3h1.5v1.5h-1.5zM113.0,220.3h1.5v1.5h-1.5zM90.6,236.8h1.5v1.5h-1.5zM110.6,218.1h1.5v1.5h-1.5zM117.9,244.3h1.5v1.5h-1.5zM118.8,209.4h1.5v1.5h-1.5zM85.8,238.8h1.5v1.5h-1.5zM113.6,227.4h1.5v1.5h-1.5zM83.7,232.1h1.5v1.5h-1.5zM111.9,207.7h1.5v1.5h-1.5zM78.7,240.2h1.5v1.5h-1.5zM99.7,217.3h1.5v1.5h-1.5zM93.8,250.3h1.5v1.5h-1.5zM106.5,251.4h1.5v1.5h-1.5zM79.3,247.2h1.5v1.5h-1.5zM123.8,236.5h1.5v1.5h-1.5zM90.1,243.9h1.5v1.5h-1.5zM58.9,252.4h1.5v1.5h-1.5zM87.4,243.8h1.5v1.5h-1.5zM103.5,246.9h1.5v1.5h-1.5zM74.8,228.0h1.5v1.5h-1.5zM98.5,216.8h1.5v1.5h-1.5zM129.0,207.2h1.5v1.5h-1.5zM80.1,217.6h1.5v1.5h-1.5zM94.7,242.9h1.5v1.5h-1.5zM108.0,213.2h1.5v1.5h-1.5zM110.9,229.6h1.5v1.5h-1.5zM118.9,229.5h1.5v1.5h-1.5zM108.1,229.4h1.5v1.5h-1.5zM80.9,233.4h1.5v1.5h-1.5zM110.1,232.1h1.5v1.5h-1.5zM88.3,236.8h1.5v1.5h-1.5zM120.3,197.2h1.5v1.5h-1.5zM90.6,227.2h1.5v1.5h-1.5zM122.0,232.0h1.5v1.5h-1.5zM98.8,252.5h1.5v1.5h-1.5zM98.5,221.7h1.5v1.5h-1.5zM107.1,212.9h1.5v1.5h-1.5zM102.5,245.5h1.5v1.5h-1.5zM99.7,209.5h1.5v1.5h-1.5zM75.8,214.7h1.5v1.5h-1.5zM99.1,232.8h1.5v1.5h-1.5zM82.1,221.0h1.5v1.5h-1.5zM131.1,208.5h1.5v1.5h-1.5zM106.4,197.6h1.5v1.5h-1.5zM74.8,235.1h1.5v1.5h-1.5zM83.3,241.4h1.5v1.5h-1.5zM127.1,223.8h1.5v1.5h-1.5zM108.3,240.6h1.5v1.5h-1.5zM98.4,223.3h1.5v1.5h-1.5zM111.3,228.3h1.5v1.5h-1.5zM97.3,229.4h1.5v1.5h-1.5zM93.9,243.8h1.5v1.5h-1.5zM82.3,196.7h1.5v1.5h-1.5zM116.6,226.2h1.5v1.5h-1.5zM105.2,232.7h1.5v1.5h-1.5zM127.2,194.1h1.5v1.5h-1.5zM66.6,268.5h1.5v1.5h-1.5zM103.1,241.7h1.5v1.5h-1.5zM97.4,233.5h1.5v1.5h-1.5zM128.3,191.4h1.5v1.5h-1.5zM121.4,231.2h1.5v1.5h-1.5zM95.7,241.9h1.5v1.5h-1.5zM104.2,225.7h1.5v1.5h-1.5zM96.9,220.3h1.5v1.5h-1.5zM107.0,236.1h1.5v1.5h-1.5zM113.5,219.6h1.5v1.5h-1.5zM107.4,217.4h1.5v1.5h-1.5zM96.1,219.5h1.5v1.5h-1.5zM89.6,202.3h1.5v1.5h-1.5zM122.1,200.0h1.5v1.5h-1.5zM83.6,236.1h1.5v1.5h-1.5zM80.7,254.9h1.5v1.5h-1.5zM114.3,197.3h1.5v1.5h-1.5zM109.4,214.8h1.5v1.5h-1.5zM86.1,240.5h1.5v1.5h-1.5zM100.4,246.4h1.5v1.5h-1.5zM93.8,224.6h1.5v1.5h-1.5zM101.9,231.0h1.5v1.5h-1.5zM106.8,253.0h1.5v1.5h-1.5zM90.0,206.1h1.5v1.5h-1.5zM123.3,220.0h1.5v1.5h-1.5zM64.9,260.0h1.5v1.5h-1.5zM109.3,240.4h1.5v1.5h-1.5zM135.0,222.0h1.5v1.5h-1.5zM92.0,239.1h1.5v1.5h-1.5zM108.2,229.4h1.5v1.5h-1.5zM112.0,216.0h1.5v1.5h-1.5zM70.8,257.7h1.5v1.5h-1.5zM77.2,262.5h1.5v1.5h-1.5zM100.8,212.9h1.5v1.5h-1.5zM82.3,237.5h1.5v1.5h-1.5zM92.8,260.5h1.5v1.5h-1.5zM88.6,242.4h1.5v1.5h-1.5zM92.2,231.0h1.5v1.5h-1.5zM119.2,219.1h1.5v1.5h-1.5zM110.8,261.8h1.5v1.5h-1.5zM80.0,259.7h1.5v1.5h-1.5zM94.8,236.2h1.5v1.5h-1.5zM104.9,230.9h1.5v1.5h-1.5zM99.1,239.1h1.5v1.5h-1.5zM109.7,230.2h1.5v1.5h-1.5zM65.9,242.3h1.5v1.5h-1.5zM89.7,225.1h1.5v1.5h-1.5zM95.3,240.5h1.5v1.5h-1.5zM88.0,265.2h1.5v1.5h-1.5zM110.6,194.7h1.5v1.5h-1.5zM85.9,239.0h1.5v1.5h-1.5zM91.4,255.9h1.5v1.5h-1.5zM74.0,237.3h1.5v1.5h-1.5zM112.3,235.0h1.5v1.5h-1.5zM115.3,231.2h1.5v1.5h-1.5zM82.5,253.1h1.5v1.5h-1.5zM125.1,209.2h1.5v1.5h-1.5zM87.2,225.7h1.5v1.5h-1.5zM112.2,230.0h1.5v1.5h-1.5zM76.6,243.6h1.5v1.5h-1.5zM101.3,221.8h1.5v1.5h-1.5zM79.8,256.2h1.5v1.5h-1.5zM138.0,203.4h1.5v1.5h-1.5zM99.2,236.1h1.5v1.5h-1.5zM97.5,235.3h1.5v1.5h-1.5zM103.7,248.4h1.5v1.5h-1.5zM90.5,243.0h1.5v1.5h-1.5zM106.0,217.2h1.5v1.5h-1.5zM122.9,216.4h1.5v1.5h-1.5zM113.3,220.6h1.5v1.5h-1.5zM85.2,268.6h1.5v1.5h-1.5zM108.7,231.6h1.5v1.5h-1.5zM97.3,227.9h1.5v1.5h-1.5zM91.7,229.9h1.5v1.5h-1.5zM109.4,212.5h1.5v1.5h-1.5zM103.1,250.5h1.5v1.5h-1.5zM86.5,225.4h1.5v1.5h-1.5zM105.5,212.8h1.5v1.5h-1.5zM99.7,221.0h1.5v1.5h-1.5zM82.4,219.0h1.5v1.5h-1.5zM104.0,246.0h1.5v1.5h-1.5zM118.5,219.2h1.5v1.5h-1.5zM123.9,217.7h1.5v1.5h-1.5zM97.9,224.0h1.5v1.5h-1.5zM134.7,225.5h1.5v1.5h-1.5zM91.3,238.1h1.5v1.5h-1.5zM105.3,249.6h1.5v1.5h-1.5zM94.2,230.1h1.5v1.5h-1.5zM93.1,229.3h1.5v1.5h-1.5zM83.4,230.5h1.5v1.5h-1.5zM108.5,230.3h1.5v1.5h-1.5zM101.8,221.7h1.5v1.5h-1.5zM68.1,248.5h1.5v1.5h-1.5zM67.6,235.4h1.5v1.5h-1.5zM119.7,233.5h1.5v1.5h-1.5zM115.4,216.7h1.5v1.5h-1.5zM98.4,229.3h1.5v1.5h-1.5zM99.8,254.9h1.5v1.5h-1.5zM131.1,231.2h1.5v1.5h-1.5zM77.6,228.2h1.5v1.5h-1.5zM64.5,260.5h1.5v1.5h-1.5zM88.7,249.1h1.5v1.5h-1.5zM92.5,233.6h1.5v1.5h-1.5zM91.5,253.1h1.5v1.5h-1.5zM122.5,223.3h1.5v1.5h-1.5zM107.4,236.8h1.5v1.5h-1.5zM115.0,211.4h1.5v1.5h-1.5zM110.2,236.0h1.5v1.5h-1.5zM115.5,222.4h1.5v1.5h-1.5zM109.0,219.4h1.5v1.5h-1.5zM109.1,227.3h1.5v1.5h-1.5zM73.2,235.7h1.5v1.5h-1.5zM121.6,242.0h1.5v1.5h-1.5zM98.1,229.9h1.5v1.5h-1.5zM85.6,229.5h1.5v1.5h-1.5zM90.9,251.9h1.5v1.5h-1.5zM92.8,246.2h1.5v1.5h-1.5zM103.0,217.5h1.5v1.5h-1.5zM127.0,219.6h1.5v1.5h-1.5zM95.6,226.9h1.5v1.5h-1.5zM77.1,222.0h1.5v1.5h-1.5zM70.7,253.3h1.5v1.5h-1.5zM114.1,220.2h1.5v1.5h-1.5zM94.2,225.7h1.5v1.5h-1.5zM117.8,197.3h1.5v1.5h-1.5zM103.1,250.2h1.5v1.5h-1.5zM100.8,225.5h1.5v1.5h-1.5zM79.4,235.3h1.5v1.5h-1.5zM122.3,219.8h1.5v1.5h-1.5zM123.4,230.6h1.5v1.5h-1.5zM122.0,216.0h1.5v1.5h-1.5zM105.7,240.6h1.5v1.5h-1.5zM78.1,255.8h1.5v1.5h-1.5zM97.5,230.4h1.5v1.5h-1.5zM113.1,232.3h1.5v1.5h-1.5zM126.1,234.4h1.5v1.5h-1.5zM109.0,223.3h1.5v1.5h-1.5zM97.2,226.5h1.5v1.5h-1.5zM128.4,216.0h1.5v1.5h-1.5zM97.5,243.9h1.5v1.5h-1.5zM125.4,205.8h1.5v1.5h-1.5zM114.0,224.1h1.5v1.5h-1.5zM134.5,208.7h1.5v1.5h-1.5zM111.5,221.8h1.5v1.5h-1.5zM101.5,234.1h1.5v1.5h-1.5zM104.5,234.6h1.5v1.5h-1.5zM132.3,204.5h1.5v1.5h-1.5zM61.3,252.8h1.5v1.5h-1.5zM101.3,263.3h1.5v1.5h-1.5zM98.8,244.7h1.5v1.5h-1.5zM96.6,236.2h1.5v1.5h-1.5zM101.4,220.8h1.5v1.5h-1.5zM82.3,269.2h1.5v1.5h-1.5zM110.5,203.4h1.5v1.5h-1.5zM104.2,226.7h1.5v1.5h-1.5zM102.9,208.3h1.5v1.5h-1.5zM97.4,242.2h1.5v1.5h-1.5zM60.8,233.8h1.5v1.5h-1.5zM92.9,210.1h1.5v1.5h-1.5zM113.3,217.6h1.5v1.5h-1.5zM96.1,229.8h1.5v1.5h-1.5zM105.9,224.7h1.5v1.5h-1.5zM104.4,217.9h1.5v1.5h-1.5zM62.8,256.6h1.5v1.5h-1.5zM73.6,244.1h1.5v1.5h-1.5zM111.2,212.7h1.5v1.5h-1.5zM67.9,239.9h1.5v1.5h-1.5zM93.6,232.1h1.5v1.5h-1.5zM86.5,224.3h1.5v1.5h-1.5zM89.0,239.8h1.5v1.5h-1.5zM55.8,268.1h1.5v1.5h-1.5zM105.6,212.7h1.5v1.5h-1.5zM90.8,240.2h1.5v1.5h-1.5zM77.2,234.2h1.5v1.5h-1.5zM85.4,247.7h1.5v1.5h-1.5zM106.9,226.2h1.5v1.5h-1.5zM115.2,232.0h1.5v1.5h-1.5zM101.4,242.0h1.5v1.5h-1.5zM106.3,218.5h1.5v1.5h-1.5zM84.5,264.2h1.5v1.5h-1.5zM99.9,234.7h1.5v1.5h-1.5zM105.6,215.8h1.5v1.5h-1.5zM84.8,222.2h1.5v1.5h-1.5zM127.1,217.7h1.5v1.5h-1.5zM74.3,248.8h1.5v1.5h-1.5zM92.4,224.0h1.5v1.5h-1.5zM104.7,214.5h1.5v1.5h-1.5zM97.9,229.2h1.5v1.5h-1.5zM84.9,261.0h1.5v1.5h-1.5zM128.7,209.9h1.5v1.5h-1.5zM72.7,257.1h1.5v1.5h-1.5zM109.1,230.4h1.5v1.5h-1.5zM109.2,223.1h1.5v1.5h-1.5zM119.8,215.8h1.5v1.5h-1.5zM132.2,216.7h1.5v1.5h-1.5zM122.4,215.8h1.5v1.5h-1.5zM99.1,228.0h1.5v1.5h-1.5zM73.8,236.4h1.5v1.5h-1.5zM81.5,246.9h1.5v1.5h-1.5zM96.8,217.5h1.5v1.5h-1.5zM110.1,201.9h1.5v1.5h-1.5zM130.3,224.8h1.5v1.5h-1.5zM88.6,252.7h1.5v1.5h-1.5zM112.8,241.7h1.5v1.5h-1.5zM100.2,234.6h1.5v1.5h-1.5zM113.0,226.0h1.5v1.5h-1.5zM88.5,232.0h1.5v1.5h-1.5zM99.3,239.9h1.5v1.5h-1.5zM126.8,231.4h1.5v1.5h-1.5zM107.1,220.7h1.5v1.5h-1.5zM115.8,215.9h1.5v1.5h-1.5zM94.0,212.6h1.5v1.5h-1.5zM86.6,244.9h1.5v1.5h-1.5zM101.1,230.1h1.5v1.5h-1.5zM105.5,220.1h1.5v1.5h-1.5zM116.6,217.6h1.5v1.5h-1.5zM105.8,240.9h1.5v1.5h-1.5zM111.5,216.6h1.5v1.5h-1.5zM112.9,226.0h1.5v1.5h-1.5zM60.9,221.0h1.5v1.5h-1.5zM105.8,219.1h1.5v1.5h-1.5zM88.3,241.0h1.5v1.5h-1.5zM82.7,232.5h1.5v1.5h-1.5zM86.0,221.3h1.5v1.5h-1.5zM115.2,204.8h1.5v1.5h-1.5zM60.5,247.6h1.5v1.5h-1.5zM114.3,214.9h1.5v1.5h-1.5zM97.2,235.0h1.5v1.5h-1.5zM80.2,232.4h1.5v1.5h-1.5zM115.5,213.1h1.5v1.5h-1.5zM34.5,231.3h1.5v1.5h-1.5zM34.5,233.4h1.5v1.5h-1.5zM34.5,245.2h1.5v1.5h-1.5zM34.5,250.4h1.5v1.5h-1.5zM34.5,255.6h1.5v1.5h-1.5zM34.5,264.1h1.5v1.5h-1.5zM34.5,266.2h1.5v1.5h-1.5zM34.5,269.4h1.5v1.5h-1.5zM34.5,285.9h1.5v1.5h-1.5zM54.6,285.9h1.5v1.5h-1.5zM56.8,285.9h1.5v1.5h-1.5zM59.2,285.9h1.5v1.5h-1.5zM61.2,285.9h1.5v1.5h-1.5zM63.8,285.9h1.5v1.5h-1.5zM66.2,285.9h1.5v1.5h-1.5zM68.8,285.9h1.5v1.5h-1.5zM71.2,285.9h1.5v1.5h-1.5zM74.8,285.9h1.5v1.5h-1.5zM80.0,285.9h1.5v1.5h-1.5zM84.2,285.9h1.5v1.5h-1.5zM92.8,285.9h1.5v1.5h-1.5zM96.2,285.9h1.5v1.5h-1.5zM98.8,285.9h1.5v1.5h-1.5zM103.2,285.9h1.5v1.5h-1.5z" fill="#359650" fill-opacity="1"/>
<path d="M91.1,241.7h1.5v1.5h-1.5zM121.2,220.5h1.5v1.5h-1.5zM107.3,217.9h1.5v1.5h-1.5zM108.2,237.0h1.5v1.5h-1.5zM78.1,249.1h1.5v1.5h-1.5zM98.8,263.5h1.5v1.5h-1.5zM96.1,226.7h1.5v1.5h-1.5zM103.3,237.0h1.5v1.5h-1.5zM104.7,223.1h1.5v1.5h-1.5zM116.8,222.7h1.5v1.5h-1.5zM67.7,234.9h1.5v1.5h-1.5zM97.7,239.2h1.5v1.5h-1.5zM106.7,223.3h1.5v1.5h-1.5zM106.7,228.4h1.5v1.5h-1.5zM136.7,202.1h1.5v1.5h-1.5zM78.4,264.4h1.5v1.5h-1.5zM71.2,247.0h1.5v1.5h-1.5zM112.1,244.9h1.5v1.5h-1.5zM112.2,229.2h1.5v1.5h-1.5zM113.0,217.8h1.5v1.5h-1.5zM104.9,220.9h1.5v1.5h-1.5zM124.8,220.0h1.5v1.5h-1.5zM116.2,219.7h1.5v1.5h-1.5zM103.2,249.2h1.5v1.5h-1.5zM87.7,247.1h1.5v1.5h-1.5zM81.6,261.7h1.5v1.5h-1.5zM62.7,263.4h1.5v1.5h-1.5zM85.8,247.8h1.5v1.5h-1.5zM117.5,232.6h1.5v1.5h-1.5zM72.7,267.6h1.5v1.5h-1.5zM113.3,229.3h1.5v1.5h-1.5zM100.9,261.8h1.5v1.5h-1.5zM94.8,217.0h1.5v1.5h-1.5zM109.9,218.9h1.5v1.5h-1.5zM89.3,225.6h1.5v1.5h-1.5zM126.2,238.8h1.5v1.5h-1.5zM98.0,216.5h1.5v1.5h-1.5zM120.8,237.7h1.5v1.5h-1.5zM84.2,250.3h1.5v1.5h-1.5zM112.9,215.2h1.5v1.5h-1.5zM67.6,262.2h1.5v1.5h-1.5zM112.8,231.0h1.5v1.5h-1.5zM130.4,222.0h1.5v1.5h-1.5zM80.0,249.6h1.5v1.5h-1.5zM121.3,243.6h1.5v1.5h-1.5zM86.4,256.3h1.5v1.5h-1.5zM103.1,215.8h1.5v1.5h-1.5zM94.8,231.8h1.5v1.5h-1.5zM92.3,224.9h1.5v1.5h-1.5zM111.3,220.0h1.5v1.5h-1.5zM113.5,235.5h1.5v1.5h-1.5zM92.1,244.6h1.5v1.5h-1.5zM58.1,265.9h1.5v1.5h-1.5zM126.1,220.1h1.5v1.5h-1.5zM98.5,226.9h1.5v1.5h-1.5zM118.6,204.3h1.5v1.5h-1.5zM119.8,214.6h1.5v1.5h-1.5zM130.1,206.5h1.5v1.5h-1.5zM109.4,236.8h1.5v1.5h-1.5zM82.4,246.3h1.5v1.5h-1.5zM101.4,230.8h1.5v1.5h-1.5zM107.4,220.1h1.5v1.5h-1.5zM91.0,236.3h1.5v1.5h-1.5zM92.2,246.3h1.5v1.5h-1.5zM103.6,229.2h1.5v1.5h-1.5zM126.7,227.4h1.5v1.5h-1.5zM117.0,212.5h1.5v1.5h-1.5zM92.1,259.6h1.5v1.5h-1.5zM108.6,210.3h1.5v1.5h-1.5zM88.7,255.1h1.5v1.5h-1.5zM102.5,233.3h1.5v1.5h-1.5zM105.0,232.8h1.5v1.5h-1.5zM83.6,263.1h1.5v1.5h-1.5zM104.9,224.6h1.5v1.5h-1.5zM112.1,219.3h1.5v1.5h-1.5zM112.9,217.9h1.5v1.5h-1.5zM104.3,242.6h1.5v1.5h-1.5zM126.8,213.4h1.5v1.5h-1.5zM91.6,222.5h1.5v1.5h-1.5zM112.9,238.0h1.5v1.5h-1.5zM120.8,216.6h1.5v1.5h-1.5zM110.7,213.2h1.5v1.5h-1.5zM104.8,232.2h1.5v1.5h-1.5zM90.8,233.6h1.5v1.5h-1.5zM99.0,255.8h1.5v1.5h-1.5zM100.2,243.5h1.5v1.5h-1.5zM120.3,203.2h1.5v1.5h-1.5zM102.5,222.0h1.5v1.5h-1.5zM90.4,228.3h1.5v1.5h-1.5zM89.8,233.2h1.5v1.5h-1.5zM68.9,267.5h1.5v1.5h-1.5zM102.1,230.9h1.5v1.5h-1.5zM110.8,238.0h1.5v1.5h-1.5zM83.8,232.7h1.5v1.5h-1.5z" fill="#d9449c" fill-opacity="1"/>
<path d="M114.6,220.7h1.5v1.5h-1.5zM129.4,224.1h1.5v1.5h-1.5zM104.5,233.0h1.5v1.5h-1.5zM113.8,218.8h1.5v1.5h-1.5zM88.1,236.1h1.5v1.5h-1.5zM110.7,229.4h1.5v1.5h-1.5zM112.4,222.6h1.5v1.5h-1.5zM100.7,245.6h1.5v1.5h-1.5zM136.1,192.7h1.5v1.5h-1.5zM130.8,227.6h1.5v1.5h-1.5zM126.9,222.1h1.5v1.5h-1.5zM120.8,210.1h1.5v1.5h-1.5zM119.1,208.2h1.5v1.5h-1.5zM119.8,234.8h1.5v1.5h-1.5zM121.5,207.8h1.5v1.5h-1.5zM109.7,234.8h1.5v1.5h-1.5zM115.3,234.3h1.5v1.5h-1.5zM112.9,214.9h1.5v1.5h-1.5zM123.5,199.8h1.5v1.5h-1.5zM108.1,216.5h1.5v1.5h-1.5zM103.6,209.3h1.5v1.5h-1.5zM122.7,226.2h1.5v1.5h-1.5zM98.8,246.5h1.5v1.5h-1.5zM105.2,222.5h1.5v1.5h-1.5zM115.4,211.7h1.5v1.5h-1.5zM120.0,207.7h1.5v1.5h-1.5zM97.4,263.2h1.5v1.5h-1.5zM119.2,229.8h1.5v1.5h-1.5zM108.2,219.0h1.5v1.5h-1.5zM127.1,231.8h1.5v1.5h-1.5zM137.7,203.5h1.5v1.5h-1.5zM107.9,211.4h1.5v1.5h-1.5zM127.0,210.5h1.5v1.5h-1.5zM120.8,226.5h1.5v1.5h-1.5zM112.4,221.4h1.5v1.5h-1.5zM126.3,217.0h1.5v1.5h-1.5zM108.1,254.3h1.5v1.5h-1.5zM134.0,220.5h1.5v1.5h-1.5zM107.8,218.1h1.5v1.5h-1.5zM112.5,199.1h1.5v1.5h-1.5zM134.4,238.2h1.5v1.5h-1.5zM113.6,222.8h1.5v1.5h-1.5zM93.1,244.6h1.5v1.5h-1.5zM106.0,221.0h1.5v1.5h-1.5zM127.4,206.2h1.5v1.5h-1.5zM122.3,191.4h1.5v1.5h-1.5zM100.1,233.9h1.5v1.5h-1.5zM113.4,220.1h1.5v1.5h-1.5zM121.0,210.2h1.5v1.5h-1.5zM134.6,216.8h1.5v1.5h-1.5zM120.7,203.8h1.5v1.5h-1.5zM102.8,214.0h1.5v1.5h-1.5zM102.8,231.8h1.5v1.5h-1.5zM104.4,220.0h1.5v1.5h-1.5zM134.1,214.1h1.5v1.5h-1.5zM110.3,212.4h1.5v1.5h-1.5zM116.4,206.7h1.5v1.5h-1.5zM85.1,237.9h1.5v1.5h-1.5zM97.1,220.6h1.5v1.5h-1.5zM96.6,226.6h1.5v1.5h-1.5zM103.4,211.7h1.5v1.5h-1.5zM96.6,243.3h1.5v1.5h-1.5zM108.6,222.0h1.5v1.5h-1.5zM101.0,244.1h1.5v1.5h-1.5zM116.4,218.5h1.5v1.5h-1.5zM101.2,227.9h1.5v1.5h-1.5zM122.8,227.2h1.5v1.5h-1.5zM94.6,228.7h1.5v1.5h-1.5zM117.3,211.6h1.5v1.5h-1.5zM110.3,222.6h1.5v1.5h-1.5zM123.1,223.3h1.5v1.5h-1.5zM121.7,213.9h1.5v1.5h-1.5zM117.7,222.2h1.5v1.5h-1.5zM115.4,219.5h1.5v1.5h-1.5zM108.4,230.2h1.5v1.5h-1.5zM114.9,239.0h1.5v1.5h-1.5zM137.6,195.1h1.5v1.5h-1.5zM128.2,190.1h1.5v1.5h-1.5zM117.2,239.9h1.5v1.5h-1.5zM113.0,223.8h1.5v1.5h-1.5zM126.0,233.5h1.5v1.5h-1.5zM104.6,222.6h1.5v1.5h-1.5zM118.9,227.3h1.5v1.5h-1.5zM127.0,224.7h1.5v1.5h-1.5zM118.8,219.9h1.5v1.5h-1.5zM134.4,211.6h1.5v1.5h-1.5zM112.0,222.2h1.5v1.5h-1.5zM118.6,216.6h1.5v1.5h-1.5zM104.3,231.6h1.5v1.5h-1.5zM113.7,224.1h1.5v1.5h-1.5zM133.9,220.9h1.5v1.5h-1.5zM135.9,212.5h1.5v1.5h-1.5zM126.9,212.3h1.5v1.5h-1.5zM89.3,244.5h1.5v1.5h-1.5zM131.1,205.4h1.5v1.5h-1.5zM111.9,220.4h1.5v1.5h-1.5zM115.9,216.0h1.5v1.5h-1.5zM118.4,221.0h1.5v1.5h-1.5zM111.9,213.9h1.5v1.5h-1.5zM91.4,256.7h1.5v1.5h-1.5zM97.0,234.9h1.5v1.5h-1.5zM109.7,214.2h1.5v1.5h-1.5zM100.3,213.3h1.5v1.5h-1.5zM114.2,213.5h1.5v1.5h-1.5zM92.6,223.0h1.5v1.5h-1.5zM119.1,213.2h1.5v1.5h-1.5zM106.2,226.9h1.5v1.5h-1.5zM106.7,214.9h1.5v1.5h-1.5zM110.8,210.4h1.5v1.5h-1.5zM127.7,201.4h1.5v1.5h-1.5zM117.9,233.1h1.5v1.5h-1.5zM100.3,218.9h1.5v1.5h-1.5zM99.5,235.9h1.5v1.5h-1.5zM126.1,231.3h1.5v1.5h-1.5zM122.6,217.3h1.5v1.5h-1.5zM116.0,220.8h1.5v1.5h-1.5zM109.2,223.7h1.5v1.5h-1.5zM125.8,241.8h1.5v1.5h-1.5zM94.9,229.2h1.5v1.5h-1.5zM114.4,215.6h1.5v1.5h-1.5zM102.3,237.6h1.5v1.5h-1.5zM134.5,202.9h1.5v1.5h-1.5zM86.7,241.7h1.5v1.5h-1.5zM89.6,226.7h1.5v1.5h-1.5zM123.0,218.0h1.5v1.5h-1.5zM109.6,209.6h1.5v1.5h-1.5zM117.9,226.9h1.5v1.5h-1.5zM133.3,203.8h1.5v1.5h-1.5zM118.0,230.5h1.5v1.5h-1.5zM119.9,233.5h1.5v1.5h-1.5zM132.0,194.5h1.5v1.5h-1.5zM83.0,237.6h1.5v1.5h-1.5zM126.3,215.0h1.5v1.5h-1.5zM123.1,196.9h1.5v1.5h-1.5zM108.7,238.7h1.5v1.5h-1.5zM118.9,215.4h1.5v1.5h-1.5zM107.3,230.4h1.5v1.5h-1.5zM118.0,233.4h1.5v1.5h-1.5zM111.3,215.6h1.5v1.5h-1.5zM100.1,237.4h1.5v1.5h-1.5zM90.9,260.8h1.5v1.5h-1.5zM102.7,237.6h1.5v1.5h-1.5zM116.8,213.1h1.5v1.5h-1.5zM119.5,210.1h1.5v1.5h-1.5zM98.3,229.5h1.5v1.5h-1.5zM119.9,230.6h1.5v1.5h-1.5zM91.0,235.9h1.5v1.5h-1.5zM115.0,223.6h1.5v1.5h-1.5zM115.2,224.6h1.5v1.5h-1.5zM106.5,285.9h1.5v1.5h-1.5zM109.7,285.9h1.5v1.5h-1.5zM113.2,285.9h1.5v1.5h-1.5zM116.2,285.9h1.5v1.5h-1.5zM118.8,285.9h1.5v1.5h-1.5zM121.2,285.9h1.5v1.5h-1.5zM124.2,285.9h1.5v1.5h-1.5zM127.2,285.9h1.5v1.5h-1.5zM130.8,285.9h1.5v1.5h-1.5z" fill="#4152b9" fill-opacity="1"/>
<line x1="35.7" y1="283.27000000000004" x2="144.114" y2="205.84750000000003" stroke="#4862b4" stroke-width="1.4" stroke-opacity="0.9"/>
<line x1="30.2" y1="186.2" x2="30.2" y2="291.3" stroke="#231f20" stroke-width="1.1" />
<path d="M27.7,275.9 L32.7,273.5 L32.7,275.5 L27.7,277.9Z" fill="#fff"/>
<path d="M27.7,275.9 L32.7,273.5 M27.7,277.9 L32.7,275.5" stroke="#231f20" stroke-width="1.0" fill="none" />
<line x1="27.2" y1="203.35000000000002" x2="30.2" y2="203.35000000000002" stroke="#231f20" stroke-width="1.0" />
<text x="25.2" y="206.15000000000003" font-size="8.5" text-anchor="end" font-weight="normal" fill="#231f20" >3</text>
<line x1="27.2" y1="231.10000000000002" x2="30.2" y2="231.10000000000002" stroke="#231f20" stroke-width="1.0" />
<text x="25.2" y="233.90000000000003" font-size="8.5" text-anchor="end" font-weight="normal" fill="#231f20" >2</text>
<line x1="27.2" y1="258.85" x2="30.2" y2="258.85" stroke="#231f20" stroke-width="1.0" />
<text x="25.2" y="261.65000000000003" font-size="8.5" text-anchor="end" font-weight="normal" fill="#231f20" >1</text>
<line x1="27.2" y1="286.6" x2="30.2" y2="286.6" stroke="#231f20" stroke-width="1.0" />
<text x="25.2" y="289.40000000000003" font-size="8.5" text-anchor="end" font-weight="normal" fill="#231f20" >0</text>
<line x1="29.65" y1="291.1" x2="147.6" y2="291.1" stroke="#231f20" stroke-width="1.1" />
<path d="M36.400000000000006,294.1 L41.0,288.1 L42.599999999999994,288.1 L38.0,294.1Z" fill="#fff"/>
<path d="M36.400000000000006,294.1 L41.0,288.1 M38.0,294.1 L42.599999999999994,288.1" stroke="#231f20" stroke-width="1.0" fill="none" />
<line x1="35.7" y1="291.1" x2="35.7" y2="294.3" stroke="#231f20" stroke-width="1.0" />
<text x="35.7" y="304.2" font-size="8.5" text-anchor="middle" font-weight="normal" fill="#231f20" >0</text>
<line x1="69.9" y1="291.1" x2="69.9" y2="294.3" stroke="#231f20" stroke-width="1.0" />
<text x="69.9" y="304.2" font-size="8.5" text-anchor="middle" font-weight="normal" fill="#231f20" >1</text>
<line x1="104.10000000000001" y1="291.1" x2="104.10000000000001" y2="294.3" stroke="#231f20" stroke-width="1.0" />
<text x="104.10000000000001" y="304.2" font-size="8.5" text-anchor="middle" font-weight="normal" fill="#231f20" >2</text>
<line x1="138.3" y1="291.1" x2="138.3" y2="294.3" stroke="#231f20" stroke-width="1.0" />
<text x="138.3" y="304.2" font-size="8.5" text-anchor="middle" font-weight="normal" fill="#231f20" >3</text>
<text x="62.3" y="316.3" font-size="9.2" text-anchor="start" font-weight="normal" fill="#231f20" textLength="58.6" lengthAdjust="spacingAndGlyphs" >Log(CD4 cells/μl)</text>
<text transform="translate(15.4,267.0) rotate(-90)" font-size="9.2" fill="#231f20" textLength="57.5" lengthAdjust="spacingAndGlyphs">Log(CD8 cells/μl)</text>
<text x="137.0" y="262.8" font-size="6.9" text-anchor="start" font-weight="normal" fill="#231f20" textLength="15.6" lengthAdjust="spacingAndGlyphs" style="stroke-width:0.12px">Graft</text>
<path d="M138.0,267.0h1.4v1.4h-1.4z" fill="#d9449c" fill-opacity="1.0"/>
<path d="M138.0,272.7h1.4v1.4h-1.4z" fill="#4152b9" fill-opacity="1.0"/>
<path d="M138.0,278.2h1.4v1.4h-1.4z" fill="#359650" fill-opacity="1.0"/>
<text x="142.1" y="269.8" font-size="6.3" text-anchor="start" font-weight="normal" fill="#231f20" textLength="9.4" lengthAdjust="spacingAndGlyphs" style="stroke-width:0.12px">BM</text>
<text x="142.1" y="275.6" font-size="6.3" text-anchor="start" font-weight="normal" fill="#231f20" textLength="16.0" lengthAdjust="spacingAndGlyphs" style="stroke-width:0.12px">PBSC</text>
<text x="142.1" y="281.6" font-size="6.3" text-anchor="start" font-weight="normal" fill="#231f20" textLength="20.8" lengthAdjust="spacingAndGlyphs" style="stroke-width:0.12px">CD34+</text>
<ellipse cx="196.5" cy="173.0" rx="3.75" ry="3.3" fill="none" stroke="#000" stroke-width="2.0"/>
<line x1="197.3" y1="176.7" x2="201.9" y2="176.7" stroke="#000" stroke-width="1.3" />
<text x="237.7" y="185.6" font-size="8.8" text-anchor="start" font-weight="normal" fill="#231f20" textLength="73.4" lengthAdjust="spacingAndGlyphs" >R=−0.19, <tspan font-style="italic">p</tspan>=0.00046</text>
<path d="M220.7,215.2 L329.2,227.2 L329.2,234.3 L220.7,224.1 Z" fill="#cfcdc6" fill-opacity="0.7"/>
<path d="M219.8,196.8h1.5v1.5h-1.5zM219.8,198.3h1.5v1.5h-1.5zM219.8,199.7h1.5v1.5h-1.5zM219.8,201.2h1.5v1.5h-1.5zM219.8,202.6h1.5v1.5h-1.5zM219.8,204.1h1.5v1.5h-1.5zM219.8,205.5h1.5v1.5h-1.5zM219.8,207.0h1.5v1.5h-1.5zM219.8,208.4h1.5v1.5h-1.5zM219.8,209.9h1.5v1.5h-1.5zM219.8,211.3h1.5v1.5h-1.5zM219.8,212.8h1.5v1.5h-1.5zM219.8,214.2h1.5v1.5h-1.5zM219.8,215.7h1.5v1.5h-1.5zM219.8,217.1h1.5v1.5h-1.5zM219.8,218.6h1.5v1.5h-1.5zM219.8,220.0h1.5v1.5h-1.5zM219.8,221.5h1.5v1.5h-1.5zM219.8,222.9h1.5v1.5h-1.5zM219.8,224.4h1.5v1.5h-1.5zM219.8,225.8h1.5v1.5h-1.5zM219.8,191.2h1.5v1.5h-1.5zM219.8,230.2h1.5v1.5h-1.5zM219.8,233.8h1.5v1.5h-1.5zM219.8,239.2h1.5v1.5h-1.5zM219.8,248.2h1.5v1.5h-1.5zM219.8,250.9h1.5v1.5h-1.5zM296.3,222.9h1.5v1.5h-1.5zM297.4,204.8h1.5v1.5h-1.5zM294.4,215.8h1.5v1.5h-1.5zM294.3,199.1h1.5v1.5h-1.5zM260.4,195.6h1.5v1.5h-1.5zM278.9,218.7h1.5v1.5h-1.5zM278.9,224.1h1.5v1.5h-1.5zM284.0,210.1h1.5v1.5h-1.5zM296.0,211.0h1.5v1.5h-1.5zM285.4,205.5h1.5v1.5h-1.5zM268.0,210.4h1.5v1.5h-1.5zM293.6,206.4h1.5v1.5h-1.5zM310.7,242.0h1.5v1.5h-1.5zM286.0,218.4h1.5v1.5h-1.5zM271.6,238.9h1.5v1.5h-1.5zM306.1,202.8h1.5v1.5h-1.5zM300.1,213.6h1.5v1.5h-1.5zM280.6,214.2h1.5v1.5h-1.5zM303.5,202.1h1.5v1.5h-1.5zM283.6,215.9h1.5v1.5h-1.5zM273.3,216.3h1.5v1.5h-1.5zM288.7,210.8h1.5v1.5h-1.5zM292.7,201.9h1.5v1.5h-1.5zM286.1,223.0h1.5v1.5h-1.5zM314.2,210.0h1.5v1.5h-1.5zM273.7,205.2h1.5v1.5h-1.5zM299.0,210.7h1.5v1.5h-1.5zM272.0,222.7h1.5v1.5h-1.5zM283.1,199.3h1.5v1.5h-1.5zM302.8,194.6h1.5v1.5h-1.5zM283.2,224.8h1.5v1.5h-1.5zM266.1,219.6h1.5v1.5h-1.5zM305.6,230.7h1.5v1.5h-1.5zM302.3,213.7h1.5v1.5h-1.5zM311.1,211.9h1.5v1.5h-1.5zM293.8,221.7h1.5v1.5h-1.5zM277.7,215.8h1.5v1.5h-1.5zM272.6,201.8h1.5v1.5h-1.5zM282.1,217.7h1.5v1.5h-1.5zM287.2,195.0h1.5v1.5h-1.5zM289.2,214.8h1.5v1.5h-1.5zM305.6,215.1h1.5v1.5h-1.5zM318.3,211.5h1.5v1.5h-1.5zM273.9,223.9h1.5v1.5h-1.5zM255.7,226.8h1.5v1.5h-1.5zM291.9,225.0h1.5v1.5h-1.5zM268.3,223.2h1.5v1.5h-1.5zM291.1,221.2h1.5v1.5h-1.5zM285.3,205.8h1.5v1.5h-1.5zM281.8,227.8h1.5v1.5h-1.5zM311.3,206.6h1.5v1.5h-1.5zM321.6,217.7h1.5v1.5h-1.5zM291.3,212.5h1.5v1.5h-1.5zM297.2,209.2h1.5v1.5h-1.5zM308.4,219.0h1.5v1.5h-1.5zM266.2,213.7h1.5v1.5h-1.5zM288.8,230.3h1.5v1.5h-1.5zM320.9,197.6h1.5v1.5h-1.5zM298.9,215.0h1.5v1.5h-1.5zM328.1,233.7h1.5v1.5h-1.5zM258.7,229.3h1.5v1.5h-1.5zM265.1,227.0h1.5v1.5h-1.5zM265.5,224.0h1.5v1.5h-1.5zM275.3,236.4h1.5v1.5h-1.5zM292.1,208.1h1.5v1.5h-1.5zM287.1,211.7h1.5v1.5h-1.5zM297.9,204.4h1.5v1.5h-1.5zM282.3,219.6h1.5v1.5h-1.5zM263.8,224.8h1.5v1.5h-1.5zM282.9,203.5h1.5v1.5h-1.5zM273.4,218.9h1.5v1.5h-1.5zM287.4,216.0h1.5v1.5h-1.5zM286.7,227.3h1.5v1.5h-1.5zM312.4,226.2h1.5v1.5h-1.5zM293.2,211.7h1.5v1.5h-1.5zM273.5,216.0h1.5v1.5h-1.5zM253.7,221.2h1.5v1.5h-1.5zM276.7,198.6h1.5v1.5h-1.5zM284.9,207.2h1.5v1.5h-1.5zM305.1,214.8h1.5v1.5h-1.5zM280.3,215.8h1.5v1.5h-1.5zM269.5,199.4h1.5v1.5h-1.5zM265.8,203.3h1.5v1.5h-1.5zM260.2,216.8h1.5v1.5h-1.5zM280.1,217.1h1.5v1.5h-1.5zM287.5,239.0h1.5v1.5h-1.5zM314.1,202.3h1.5v1.5h-1.5zM256.7,217.0h1.5v1.5h-1.5zM290.7,206.2h1.5v1.5h-1.5zM277.2,232.2h1.5v1.5h-1.5zM302.4,213.0h1.5v1.5h-1.5zM309.5,211.7h1.5v1.5h-1.5zM293.1,210.5h1.5v1.5h-1.5zM266.0,199.9h1.5v1.5h-1.5zM299.9,208.4h1.5v1.5h-1.5zM305.6,222.8h1.5v1.5h-1.5zM282.5,198.5h1.5v1.5h-1.5zM303.5,221.7h1.5v1.5h-1.5zM301.9,231.3h1.5v1.5h-1.5zM280.3,213.5h1.5v1.5h-1.5zM270.4,233.7h1.5v1.5h-1.5zM285.4,222.2h1.5v1.5h-1.5zM317.9,222.4h1.5v1.5h-1.5zM315.5,236.0h1.5v1.5h-1.5zM270.3,233.5h1.5v1.5h-1.5zM252.6,209.2h1.5v1.5h-1.5zM256.2,204.0h1.5v1.5h-1.5zM293.9,218.2h1.5v1.5h-1.5zM309.5,208.3h1.5v1.5h-1.5zM267.5,228.2h1.5v1.5h-1.5zM306.2,203.7h1.5v1.5h-1.5zM301.2,227.0h1.5v1.5h-1.5zM264.4,206.6h1.5v1.5h-1.5zM282.9,217.6h1.5v1.5h-1.5zM265.4,224.2h1.5v1.5h-1.5zM309.1,229.5h1.5v1.5h-1.5zM274.3,237.7h1.5v1.5h-1.5zM297.1,221.1h1.5v1.5h-1.5zM275.6,207.3h1.5v1.5h-1.5zM273.1,219.5h1.5v1.5h-1.5zM264.2,226.2h1.5v1.5h-1.5zM262.6,220.8h1.5v1.5h-1.5zM272.9,215.0h1.5v1.5h-1.5zM289.9,223.1h1.5v1.5h-1.5zM314.5,218.6h1.5v1.5h-1.5zM291.6,233.1h1.5v1.5h-1.5zM318.2,229.8h1.5v1.5h-1.5zM289.2,218.0h1.5v1.5h-1.5zM264.4,209.0h1.5v1.5h-1.5zM291.5,216.5h1.5v1.5h-1.5zM279.8,209.9h1.5v1.5h-1.5zM291.5,215.1h1.5v1.5h-1.5zM315.3,213.0h1.5v1.5h-1.5zM288.3,229.3h1.5v1.5h-1.5zM286.5,216.6h1.5v1.5h-1.5zM287.8,215.9h1.5v1.5h-1.5zM280.6,224.3h1.5v1.5h-1.5zM252.1,226.8h1.5v1.5h-1.5zM300.4,219.6h1.5v1.5h-1.5zM272.2,207.1h1.5v1.5h-1.5zM296.1,214.7h1.5v1.5h-1.5zM303.4,209.0h1.5v1.5h-1.5zM300.4,213.2h1.5v1.5h-1.5zM270.5,230.0h1.5v1.5h-1.5zM255.9,219.8h1.5v1.5h-1.5zM259.6,229.7h1.5v1.5h-1.5zM278.6,203.4h1.5v1.5h-1.5zM296.4,208.4h1.5v1.5h-1.5zM297.6,224.7h1.5v1.5h-1.5zM301.3,229.6h1.5v1.5h-1.5zM295.3,217.3h1.5v1.5h-1.5zM275.2,217.4h1.5v1.5h-1.5zM318.0,211.2h1.5v1.5h-1.5zM299.4,206.2h1.5v1.5h-1.5zM290.8,211.3h1.5v1.5h-1.5zM272.1,213.2h1.5v1.5h-1.5zM314.6,232.4h1.5v1.5h-1.5zM291.2,201.1h1.5v1.5h-1.5zM260.1,200.7h1.5v1.5h-1.5zM281.8,225.2h1.5v1.5h-1.5zM260.5,224.2h1.5v1.5h-1.5zM285.4,227.0h1.5v1.5h-1.5zM274.5,216.0h1.5v1.5h-1.5zM275.0,210.8h1.5v1.5h-1.5zM294.1,214.1h1.5v1.5h-1.5zM317.7,215.3h1.5v1.5h-1.5zM276.4,226.2h1.5v1.5h-1.5zM278.4,205.0h1.5v1.5h-1.5zM276.0,212.8h1.5v1.5h-1.5zM275.0,211.5h1.5v1.5h-1.5zM289.2,226.9h1.5v1.5h-1.5zM281.1,214.6h1.5v1.5h-1.5zM298.2,240.3h1.5v1.5h-1.5zM273.7,206.7h1.5v1.5h-1.5zM286.7,205.9h1.5v1.5h-1.5zM323.0,195.6h1.5v1.5h-1.5zM294.8,203.0h1.5v1.5h-1.5zM285.2,198.7h1.5v1.5h-1.5zM317.3,218.9h1.5v1.5h-1.5zM244.2,265.2h1.5v1.5h-1.5zM327.9,196.1h1.5v1.5h-1.5zM327.9,200.2h1.5v1.5h-1.5zM265.2,285.1h1.5v1.5h-1.5z" fill="#359650" fill-opacity="1"/>
<path d="M271.1,252.7h1.5v1.5h-1.5zM307.7,265.2h1.5v1.5h-1.5zM290.8,240.0h1.5v1.5h-1.5zM284.5,237.8h1.5v1.5h-1.5zM318.8,256.1h1.5v1.5h-1.5zM307.4,240.8h1.5v1.5h-1.5zM278.8,227.4h1.5v1.5h-1.5zM305.8,253.1h1.5v1.5h-1.5zM268.6,285.1h1.5v1.5h-1.5zM291.6,285.1h1.5v1.5h-1.5z" fill="#d9449c" fill-opacity="1"/>
<path d="M316.2,234.2h1.5v1.5h-1.5zM304.1,229.8h1.5v1.5h-1.5zM305.2,229.8h1.5v1.5h-1.5zM306.0,248.3h1.5v1.5h-1.5zM306.4,249.3h1.5v1.5h-1.5zM309.7,214.1h1.5v1.5h-1.5zM317.8,233.4h1.5v1.5h-1.5zM285.7,241.2h1.5v1.5h-1.5zM279.6,244.9h1.5v1.5h-1.5zM307.8,238.7h1.5v1.5h-1.5zM301.7,249.0h1.5v1.5h-1.5zM306.4,261.0h1.5v1.5h-1.5zM307.7,241.2h1.5v1.5h-1.5zM307.7,227.0h1.5v1.5h-1.5zM292.5,244.1h1.5v1.5h-1.5zM308.8,221.0h1.5v1.5h-1.5zM296.2,223.1h1.5v1.5h-1.5zM288.2,243.4h1.5v1.5h-1.5zM311.4,233.4h1.5v1.5h-1.5zM289.8,234.6h1.5v1.5h-1.5zM299.8,230.1h1.5v1.5h-1.5zM294.9,239.1h1.5v1.5h-1.5zM287.0,240.0h1.5v1.5h-1.5zM288.6,247.6h1.5v1.5h-1.5zM300.0,245.5h1.5v1.5h-1.5zM300.0,244.8h1.5v1.5h-1.5zM307.9,239.3h1.5v1.5h-1.5zM299.0,228.3h1.5v1.5h-1.5zM290.1,258.4h1.5v1.5h-1.5zM305.0,218.5h1.5v1.5h-1.5zM315.3,260.5h1.5v1.5h-1.5zM307.5,252.6h1.5v1.5h-1.5zM288.4,215.6h1.5v1.5h-1.5zM273.7,227.1h1.5v1.5h-1.5zM300.0,224.0h1.5v1.5h-1.5zM315.0,248.4h1.5v1.5h-1.5zM286.7,244.6h1.5v1.5h-1.5zM288.2,264.7h1.5v1.5h-1.5zM314.7,229.5h1.5v1.5h-1.5zM298.0,257.7h1.5v1.5h-1.5zM300.1,225.7h1.5v1.5h-1.5zM310.6,244.7h1.5v1.5h-1.5zM313.4,222.5h1.5v1.5h-1.5zM297.4,216.5h1.5v1.5h-1.5zM298.8,238.5h1.5v1.5h-1.5zM298.7,263.5h1.5v1.5h-1.5zM295.7,242.4h1.5v1.5h-1.5zM302.2,217.0h1.5v1.5h-1.5zM279.5,215.6h1.5v1.5h-1.5zM291.5,217.0h1.5v1.5h-1.5zM300.7,249.6h1.5v1.5h-1.5zM271.9,232.9h1.5v1.5h-1.5zM305.0,223.6h1.5v1.5h-1.5zM278.1,233.4h1.5v1.5h-1.5zM294.6,266.4h1.5v1.5h-1.5zM292.4,216.7h1.5v1.5h-1.5zM286.7,253.6h1.5v1.5h-1.5zM303.3,256.2h1.5v1.5h-1.5zM293.3,238.7h1.5v1.5h-1.5zM288.0,250.9h1.5v1.5h-1.5zM315.0,257.5h1.5v1.5h-1.5zM314.9,218.8h1.5v1.5h-1.5zM315.7,238.9h1.5v1.5h-1.5zM290.5,225.6h1.5v1.5h-1.5zM298.3,249.6h1.5v1.5h-1.5zM276.3,241.6h1.5v1.5h-1.5zM308.0,248.0h1.5v1.5h-1.5zM314.5,230.9h1.5v1.5h-1.5zM295.1,243.1h1.5v1.5h-1.5zM295.0,246.2h1.5v1.5h-1.5zM317.3,238.8h1.5v1.5h-1.5zM308.6,223.4h1.5v1.5h-1.5zM219.7,285.1h1.5v1.5h-1.5zM294.1,285.1h1.5v1.5h-1.5zM299.9,285.1h1.5v1.5h-1.5zM305.2,285.1h1.5v1.5h-1.5zM314.2,285.1h1.5v1.5h-1.5zM317.6,285.1h1.5v1.5h-1.5z" fill="#4152b9" fill-opacity="1"/>
<line x1="220.7" y1="219.1" x2="329.2" y2="230.5" stroke="#5468b8" stroke-width="1.4" stroke-opacity="0.9"/>
<line x1="215.9" y1="186.2" x2="215.9" y2="291.3" stroke="#231f20" stroke-width="1.1" />
<path d="M213.4,274.09999999999997 L218.4,271.7 L218.4,273.7 L213.4,276.09999999999997Z" fill="#fff"/>
<path d="M213.4,274.09999999999997 L218.4,271.7 M213.4,276.09999999999997 L218.4,273.7" stroke="#231f20" stroke-width="1.0" fill="none" />
<line x1="212.9" y1="200.5" x2="215.9" y2="200.5" stroke="#231f20" stroke-width="1.0" />
<text x="211.0" y="203.3" font-size="8.5" text-anchor="end" font-weight="normal" fill="#231f20" >3</text>
<line x1="212.9" y1="229.10000000000002" x2="215.9" y2="229.10000000000002" stroke="#231f20" stroke-width="1.0" />
<text x="211.0" y="231.90000000000003" font-size="8.5" text-anchor="end" font-weight="normal" fill="#231f20" >2</text>
<line x1="212.9" y1="257.7" x2="215.9" y2="257.7" stroke="#231f20" stroke-width="1.0" />
<text x="211.0" y="260.5" font-size="8.5" text-anchor="end" font-weight="normal" fill="#231f20" >1</text>
<line x1="212.9" y1="286.3" x2="215.9" y2="286.3" stroke="#231f20" stroke-width="1.0" />
<text x="211.0" y="289.1" font-size="8.5" text-anchor="end" font-weight="normal" fill="#231f20" >0</text>
<line x1="215.35" y1="291.1" x2="335.0" y2="291.1" stroke="#231f20" stroke-width="1.1" />
<path d="M221.29999999999998,294.1 L225.9,288.1 L227.50000000000003,288.1 L222.9,294.1Z" fill="#fff"/>
<path d="M221.29999999999998,294.1 L225.9,288.1 M222.9,294.1 L227.50000000000003,288.1" stroke="#231f20" stroke-width="1.0" fill="none" />
<line x1="220.8" y1="291.1" x2="220.8" y2="294.3" stroke="#231f20" stroke-width="1.0" />
<text x="220.8" y="304.2" font-size="8.5" text-anchor="middle" font-weight="normal" fill="#231f20" >0</text>
<line x1="255.95000000000002" y1="291.1" x2="255.95000000000002" y2="294.3" stroke="#231f20" stroke-width="1.0" />
<text x="255.95000000000002" y="304.2" font-size="8.5" text-anchor="middle" font-weight="normal" fill="#231f20" >1</text>
<line x1="291.1" y1="291.1" x2="291.1" y2="294.3" stroke="#231f20" stroke-width="1.0" />
<text x="291.1" y="304.2" font-size="8.5" text-anchor="middle" font-weight="normal" fill="#231f20" >2</text>
<line x1="326.25" y1="291.1" x2="326.25" y2="294.3" stroke="#231f20" stroke-width="1.0" />
<text x="326.25" y="304.2" font-size="8.5" text-anchor="middle" font-weight="normal" fill="#231f20" >3</text>
<text x="247.2" y="316.3" font-size="9.2" text-anchor="start" font-weight="normal" fill="#231f20" textLength="57.6" lengthAdjust="spacingAndGlyphs" >Log(CD4 cells/μl)</text>
<text transform="translate(201.0,268.2) rotate(-90)" font-size="9.2" fill="#231f20" textLength="61.2" lengthAdjust="spacingAndGlyphs">Log(CD19 cells/μl)</text>
<text x="367.5" y="176.9" font-size="11.0" text-anchor="start" font-weight="bold" fill="#000" textLength="6.9" lengthAdjust="spacingAndGlyphs" style="stroke:#000;stroke-width:0.55px">R</text>
<text x="417.7" y="185.5" font-size="8.8" text-anchor="start" font-weight="normal" fill="#231f20" textLength="64.9" lengthAdjust="spacingAndGlyphs" >R=−0.046, <tspan font-style="italic">p</tspan>=0.26</text>
<path d="M395.7,218.0 L506.9,219.5 L506.9,223.0 L395.7,221.9 Z" fill="#d6d2c6" fill-opacity="0.8"/>
<path d="M395.2,202.4h1.5v1.5h-1.5zM395.2,203.9h1.5v1.5h-1.5zM395.2,205.3h1.5v1.5h-1.5zM395.2,206.8h1.5v1.5h-1.5zM395.2,208.2h1.5v1.5h-1.5zM395.2,209.7h1.5v1.5h-1.5zM395.2,211.1h1.5v1.5h-1.5zM395.2,212.6h1.5v1.5h-1.5zM395.2,214.0h1.5v1.5h-1.5zM395.2,215.5h1.5v1.5h-1.5zM395.2,216.9h1.5v1.5h-1.5zM395.2,218.4h1.5v1.5h-1.5zM395.2,219.8h1.5v1.5h-1.5zM395.2,221.3h1.5v1.5h-1.5zM395.2,222.7h1.5v1.5h-1.5zM395.2,224.2h1.5v1.5h-1.5zM395.2,225.6h1.5v1.5h-1.5zM395.2,227.1h1.5v1.5h-1.5zM395.2,228.5h1.5v1.5h-1.5zM395.2,230.0h1.5v1.5h-1.5zM395.2,231.4h1.5v1.5h-1.5zM395.2,232.9h1.5v1.5h-1.5zM395.2,198.6h1.5v1.5h-1.5zM395.2,250.9h1.5v1.5h-1.5zM490.3,226.1h1.5v1.5h-1.5zM472.2,229.2h1.5v1.5h-1.5zM458.1,217.3h1.5v1.5h-1.5zM477.1,221.1h1.5v1.5h-1.5zM477.6,223.5h1.5v1.5h-1.5zM449.2,224.8h1.5v1.5h-1.5zM502.3,236.6h1.5v1.5h-1.5zM477.3,230.0h1.5v1.5h-1.5zM464.1,214.1h1.5v1.5h-1.5zM486.6,209.7h1.5v1.5h-1.5zM439.2,212.4h1.5v1.5h-1.5zM484.8,202.4h1.5v1.5h-1.5zM452.4,220.0h1.5v1.5h-1.5zM469.4,225.6h1.5v1.5h-1.5zM475.6,205.0h1.5v1.5h-1.5zM451.0,210.0h1.5v1.5h-1.5zM479.3,204.5h1.5v1.5h-1.5zM449.9,226.7h1.5v1.5h-1.5zM423.5,211.9h1.5v1.5h-1.5zM487.4,212.0h1.5v1.5h-1.5zM484.3,222.4h1.5v1.5h-1.5zM478.2,228.1h1.5v1.5h-1.5zM447.2,234.7h1.5v1.5h-1.5zM468.6,217.6h1.5v1.5h-1.5zM446.9,215.8h1.5v1.5h-1.5zM439.6,199.5h1.5v1.5h-1.5zM444.6,197.9h1.5v1.5h-1.5zM484.6,212.1h1.5v1.5h-1.5zM502.1,212.8h1.5v1.5h-1.5zM471.5,203.2h1.5v1.5h-1.5zM454.9,210.3h1.5v1.5h-1.5zM444.1,223.4h1.5v1.5h-1.5zM442.2,214.1h1.5v1.5h-1.5zM488.1,208.0h1.5v1.5h-1.5zM439.4,208.9h1.5v1.5h-1.5zM502.6,220.4h1.5v1.5h-1.5zM490.1,204.0h1.5v1.5h-1.5zM492.5,235.4h1.5v1.5h-1.5zM473.5,216.3h1.5v1.5h-1.5zM466.0,225.1h1.5v1.5h-1.5zM485.7,208.3h1.5v1.5h-1.5zM460.3,214.1h1.5v1.5h-1.5zM495.2,226.3h1.5v1.5h-1.5zM437.3,217.4h1.5v1.5h-1.5zM484.1,220.9h1.5v1.5h-1.5zM485.7,218.0h1.5v1.5h-1.5zM434.2,216.8h1.5v1.5h-1.5zM447.1,214.8h1.5v1.5h-1.5zM430.1,211.7h1.5v1.5h-1.5zM473.2,219.7h1.5v1.5h-1.5zM440.4,221.6h1.5v1.5h-1.5zM428.3,212.5h1.5v1.5h-1.5zM430.1,222.7h1.5v1.5h-1.5zM446.8,203.6h1.5v1.5h-1.5zM454.2,216.4h1.5v1.5h-1.5zM448.9,200.9h1.5v1.5h-1.5zM467.2,218.7h1.5v1.5h-1.5zM480.6,212.8h1.5v1.5h-1.5zM453.3,231.0h1.5v1.5h-1.5zM450.4,216.0h1.5v1.5h-1.5zM469.8,213.2h1.5v1.5h-1.5zM463.5,216.6h1.5v1.5h-1.5zM449.8,212.6h1.5v1.5h-1.5zM438.5,218.9h1.5v1.5h-1.5zM477.2,209.9h1.5v1.5h-1.5zM459.3,220.7h1.5v1.5h-1.5zM470.1,211.6h1.5v1.5h-1.5zM438.2,216.9h1.5v1.5h-1.5zM480.2,221.8h1.5v1.5h-1.5zM466.8,220.3h1.5v1.5h-1.5zM442.9,211.9h1.5v1.5h-1.5zM482.3,213.3h1.5v1.5h-1.5zM469.5,216.1h1.5v1.5h-1.5zM481.6,205.7h1.5v1.5h-1.5zM502.9,200.3h1.5v1.5h-1.5zM488.0,217.7h1.5v1.5h-1.5zM452.0,222.0h1.5v1.5h-1.5zM488.1,215.5h1.5v1.5h-1.5zM470.3,209.9h1.5v1.5h-1.5zM467.6,222.5h1.5v1.5h-1.5zM451.6,209.0h1.5v1.5h-1.5zM473.2,225.3h1.5v1.5h-1.5zM465.2,214.7h1.5v1.5h-1.5zM450.1,213.6h1.5v1.5h-1.5zM423.3,226.7h1.5v1.5h-1.5zM464.7,215.3h1.5v1.5h-1.5zM445.5,211.2h1.5v1.5h-1.5zM485.2,213.8h1.5v1.5h-1.5zM471.4,207.3h1.5v1.5h-1.5zM470.6,211.2h1.5v1.5h-1.5zM429.6,214.8h1.5v1.5h-1.5zM447.6,211.9h1.5v1.5h-1.5zM476.5,223.7h1.5v1.5h-1.5zM416.5,221.2h1.5v1.5h-1.5zM489.5,204.8h1.5v1.5h-1.5zM489.6,232.0h1.5v1.5h-1.5zM446.1,229.5h1.5v1.5h-1.5zM461.7,229.6h1.5v1.5h-1.5zM498.2,219.2h1.5v1.5h-1.5zM457.5,215.3h1.5v1.5h-1.5zM467.6,226.2h1.5v1.5h-1.5zM449.5,228.4h1.5v1.5h-1.5zM479.9,198.4h1.5v1.5h-1.5zM457.2,204.9h1.5v1.5h-1.5zM447.9,212.2h1.5v1.5h-1.5zM452.8,222.3h1.5v1.5h-1.5zM490.2,236.2h1.5v1.5h-1.5zM461.5,210.2h1.5v1.5h-1.5zM450.2,220.6h1.5v1.5h-1.5zM449.9,220.8h1.5v1.5h-1.5zM480.4,193.7h1.5v1.5h-1.5zM459.5,218.5h1.5v1.5h-1.5zM451.5,212.4h1.5v1.5h-1.5zM482.9,220.8h1.5v1.5h-1.5zM482.4,210.4h1.5v1.5h-1.5zM489.2,217.4h1.5v1.5h-1.5zM464.9,212.7h1.5v1.5h-1.5zM489.1,219.4h1.5v1.5h-1.5zM480.4,204.3h1.5v1.5h-1.5zM464.8,215.2h1.5v1.5h-1.5zM470.0,212.0h1.5v1.5h-1.5zM438.0,213.4h1.5v1.5h-1.5zM480.5,190.8h1.5v1.5h-1.5zM476.3,222.0h1.5v1.5h-1.5zM476.4,205.8h1.5v1.5h-1.5zM464.8,225.4h1.5v1.5h-1.5zM472.7,213.6h1.5v1.5h-1.5zM451.8,211.7h1.5v1.5h-1.5zM474.8,199.2h1.5v1.5h-1.5zM475.5,217.0h1.5v1.5h-1.5zM446.0,209.4h1.5v1.5h-1.5zM469.2,227.5h1.5v1.5h-1.5zM471.8,210.0h1.5v1.5h-1.5zM446.7,224.2h1.5v1.5h-1.5zM448.9,225.3h1.5v1.5h-1.5zM450.5,207.8h1.5v1.5h-1.5zM464.2,221.2h1.5v1.5h-1.5zM454.2,223.8h1.5v1.5h-1.5zM428.9,216.8h1.5v1.5h-1.5zM427.5,214.1h1.5v1.5h-1.5zM467.2,211.1h1.5v1.5h-1.5zM450.6,218.7h1.5v1.5h-1.5zM428.9,223.3h1.5v1.5h-1.5zM443.4,203.2h1.5v1.5h-1.5zM466.2,221.7h1.5v1.5h-1.5zM470.5,208.2h1.5v1.5h-1.5zM454.4,216.0h1.5v1.5h-1.5zM452.4,207.7h1.5v1.5h-1.5zM480.5,229.1h1.5v1.5h-1.5zM479.2,220.6h1.5v1.5h-1.5zM486.4,218.8h1.5v1.5h-1.5zM491.1,212.1h1.5v1.5h-1.5zM476.4,230.0h1.5v1.5h-1.5zM443.0,226.9h1.5v1.5h-1.5zM448.7,219.2h1.5v1.5h-1.5zM419.1,215.2h1.5v1.5h-1.5zM479.3,212.6h1.5v1.5h-1.5zM447.2,212.2h1.5v1.5h-1.5zM491.7,213.1h1.5v1.5h-1.5zM484.8,221.6h1.5v1.5h-1.5zM475.2,233.7h1.5v1.5h-1.5zM493.3,210.6h1.5v1.5h-1.5zM494.4,206.8h1.5v1.5h-1.5zM477.9,225.6h1.5v1.5h-1.5zM486.5,218.7h1.5v1.5h-1.5zM462.1,215.0h1.5v1.5h-1.5zM477.7,212.2h1.5v1.5h-1.5zM449.9,213.1h1.5v1.5h-1.5zM492.7,216.4h1.5v1.5h-1.5zM445.9,218.7h1.5v1.5h-1.5zM458.9,230.0h1.5v1.5h-1.5zM419.7,220.0h1.5v1.5h-1.5zM416.6,215.9h1.5v1.5h-1.5zM457.9,209.2h1.5v1.5h-1.5zM490.4,222.5h1.5v1.5h-1.5zM426.2,207.4h1.5v1.5h-1.5zM482.6,202.2h1.5v1.5h-1.5zM464.1,204.8h1.5v1.5h-1.5zM448.9,198.3h1.5v1.5h-1.5zM464.7,218.9h1.5v1.5h-1.5zM462.7,209.6h1.5v1.5h-1.5zM493.0,229.3h1.5v1.5h-1.5zM439.1,225.7h1.5v1.5h-1.5zM432.8,209.5h1.5v1.5h-1.5zM448.9,212.5h1.5v1.5h-1.5zM470.5,205.6h1.5v1.5h-1.5zM488.1,214.7h1.5v1.5h-1.5zM497.1,217.3h1.5v1.5h-1.5zM493.5,219.5h1.5v1.5h-1.5zM467.5,219.7h1.5v1.5h-1.5zM453.0,221.3h1.5v1.5h-1.5zM437.2,215.3h1.5v1.5h-1.5zM456.4,209.7h1.5v1.5h-1.5zM467.6,225.5h1.5v1.5h-1.5zM422.8,209.6h1.5v1.5h-1.5zM453.9,213.6h1.5v1.5h-1.5zM452.6,209.1h1.5v1.5h-1.5zM461.2,223.8h1.5v1.5h-1.5zM456.7,224.5h1.5v1.5h-1.5zM445.9,226.5h1.5v1.5h-1.5zM423.5,216.4h1.5v1.5h-1.5zM454.8,215.0h1.5v1.5h-1.5zM444.5,206.6h1.5v1.5h-1.5zM472.0,227.9h1.5v1.5h-1.5zM493.7,222.4h1.5v1.5h-1.5zM451.9,223.7h1.5v1.5h-1.5zM441.3,219.7h1.5v1.5h-1.5zM441.1,216.4h1.5v1.5h-1.5zM469.0,211.3h1.5v1.5h-1.5zM462.5,224.9h1.5v1.5h-1.5zM465.7,205.9h1.5v1.5h-1.5zM432.9,210.1h1.5v1.5h-1.5zM477.1,219.5h1.5v1.5h-1.5zM444.0,214.3h1.5v1.5h-1.5zM459.3,208.7h1.5v1.5h-1.5zM481.2,214.2h1.5v1.5h-1.5zM465.3,231.3h1.5v1.5h-1.5zM497.8,209.7h1.5v1.5h-1.5zM479.5,212.7h1.5v1.5h-1.5zM495.1,212.7h1.5v1.5h-1.5zM469.4,217.5h1.5v1.5h-1.5zM496.9,204.5h1.5v1.5h-1.5zM499.0,214.9h1.5v1.5h-1.5zM492.7,216.3h1.5v1.5h-1.5zM448.2,214.8h1.5v1.5h-1.5zM461.7,203.8h1.5v1.5h-1.5zM435.1,222.2h1.5v1.5h-1.5zM482.5,205.7h1.5v1.5h-1.5zM425.5,216.8h1.5v1.5h-1.5zM424.0,212.5h1.5v1.5h-1.5zM477.9,222.3h1.5v1.5h-1.5zM448.5,206.2h1.5v1.5h-1.5zM471.6,210.8h1.5v1.5h-1.5zM441.3,223.7h1.5v1.5h-1.5zM481.5,211.3h1.5v1.5h-1.5zM464.7,216.2h1.5v1.5h-1.5zM453.8,200.4h1.5v1.5h-1.5zM478.7,221.0h1.5v1.5h-1.5zM492.0,204.4h1.5v1.5h-1.5zM445.5,208.9h1.5v1.5h-1.5zM476.0,230.6h1.5v1.5h-1.5zM470.4,207.1h1.5v1.5h-1.5zM425.6,215.9h1.5v1.5h-1.5zM454.4,213.1h1.5v1.5h-1.5zM482.7,203.8h1.5v1.5h-1.5zM462.6,203.8h1.5v1.5h-1.5zM486.6,222.8h1.5v1.5h-1.5zM473.9,209.2h1.5v1.5h-1.5zM458.9,213.0h1.5v1.5h-1.5zM467.0,216.1h1.5v1.5h-1.5zM487.0,217.5h1.5v1.5h-1.5zM467.6,224.1h1.5v1.5h-1.5zM457.2,216.3h1.5v1.5h-1.5zM421.1,222.6h1.5v1.5h-1.5zM443.1,219.5h1.5v1.5h-1.5zM434.8,210.1h1.5v1.5h-1.5zM435.9,224.7h1.5v1.5h-1.5zM481.5,208.3h1.5v1.5h-1.5zM477.1,225.5h1.5v1.5h-1.5zM435.6,214.1h1.5v1.5h-1.5zM460.5,211.9h1.5v1.5h-1.5zM492.3,208.5h1.5v1.5h-1.5zM455.8,214.0h1.5v1.5h-1.5zM451.5,212.1h1.5v1.5h-1.5zM439.1,206.0h1.5v1.5h-1.5zM489.1,217.5h1.5v1.5h-1.5zM460.9,217.0h1.5v1.5h-1.5zM451.3,195.3h1.5v1.5h-1.5zM457.4,205.1h1.5v1.5h-1.5zM466.6,223.6h1.5v1.5h-1.5zM452.0,213.8h1.5v1.5h-1.5zM461.1,215.7h1.5v1.5h-1.5zM463.3,223.8h1.5v1.5h-1.5zM484.3,221.5h1.5v1.5h-1.5zM433.9,259.2h1.5v1.5h-1.5zM471.8,285.6h1.5v1.5h-1.5zM486.2,285.6h1.5v1.5h-1.5zM488.2,285.6h1.5v1.5h-1.5z" fill="#359650" fill-opacity="1"/>
<path d="M478.0,223.3h1.5v1.5h-1.5zM479.4,235.2h1.5v1.5h-1.5zM462.2,237.2h1.5v1.5h-1.5zM495.2,233.9h1.5v1.5h-1.5zM464.4,212.0h1.5v1.5h-1.5zM482.5,237.9h1.5v1.5h-1.5zM456.4,223.1h1.5v1.5h-1.5zM478.0,237.2h1.5v1.5h-1.5zM468.2,229.4h1.5v1.5h-1.5zM480.0,219.8h1.5v1.5h-1.5zM483.2,234.4h1.5v1.5h-1.5zM458.3,221.0h1.5v1.5h-1.5zM482.8,226.4h1.5v1.5h-1.5zM458.1,235.3h1.5v1.5h-1.5zM474.4,224.7h1.5v1.5h-1.5zM469.9,228.3h1.5v1.5h-1.5zM482.0,229.9h1.5v1.5h-1.5zM475.0,222.2h1.5v1.5h-1.5zM464.8,224.3h1.5v1.5h-1.5zM468.9,232.6h1.5v1.5h-1.5zM477.4,239.0h1.5v1.5h-1.5zM493.3,232.3h1.5v1.5h-1.5zM482.6,225.2h1.5v1.5h-1.5zM484.0,223.1h1.5v1.5h-1.5zM473.8,232.9h1.5v1.5h-1.5zM467.5,245.7h1.5v1.5h-1.5zM463.1,228.9h1.5v1.5h-1.5zM470.6,235.7h1.5v1.5h-1.5zM490.1,231.2h1.5v1.5h-1.5zM461.4,234.2h1.5v1.5h-1.5zM475.0,227.5h1.5v1.5h-1.5zM471.0,241.3h1.5v1.5h-1.5zM476.4,231.5h1.5v1.5h-1.5zM460.7,232.5h1.5v1.5h-1.5zM467.0,224.0h1.5v1.5h-1.5zM489.4,218.5h1.5v1.5h-1.5zM464.2,230.3h1.5v1.5h-1.5zM476.0,227.9h1.5v1.5h-1.5zM480.0,225.2h1.5v1.5h-1.5zM469.7,234.7h1.5v1.5h-1.5zM456.0,215.4h1.5v1.5h-1.5zM474.7,233.0h1.5v1.5h-1.5zM463.2,230.5h1.5v1.5h-1.5zM477.4,218.4h1.5v1.5h-1.5zM483.8,223.3h1.5v1.5h-1.5zM451.2,227.5h1.5v1.5h-1.5zM463.0,229.8h1.5v1.5h-1.5zM475.7,230.4h1.5v1.5h-1.5zM483.3,238.3h1.5v1.5h-1.5zM473.0,223.2h1.5v1.5h-1.5z" fill="#d9449c" fill-opacity="1"/>
<path d="M469.6,240.7h1.5v1.5h-1.5zM464.8,228.8h1.5v1.5h-1.5zM468.5,232.4h1.5v1.5h-1.5zM480.2,228.5h1.5v1.5h-1.5zM458.3,226.5h1.5v1.5h-1.5zM476.2,216.6h1.5v1.5h-1.5zM467.1,224.2h1.5v1.5h-1.5zM471.4,219.3h1.5v1.5h-1.5zM478.1,231.2h1.5v1.5h-1.5zM458.1,235.7h1.5v1.5h-1.5zM473.6,230.7h1.5v1.5h-1.5zM484.2,235.4h1.5v1.5h-1.5zM472.7,240.6h1.5v1.5h-1.5zM470.3,223.7h1.5v1.5h-1.5zM476.1,222.9h1.5v1.5h-1.5zM489.9,217.9h1.5v1.5h-1.5zM479.8,209.0h1.5v1.5h-1.5zM482.1,243.8h1.5v1.5h-1.5zM463.7,228.6h1.5v1.5h-1.5zM465.0,220.0h1.5v1.5h-1.5zM478.7,226.4h1.5v1.5h-1.5zM473.2,241.7h1.5v1.5h-1.5zM473.4,221.5h1.5v1.5h-1.5zM478.6,230.4h1.5v1.5h-1.5zM477.4,218.2h1.5v1.5h-1.5zM468.0,224.9h1.5v1.5h-1.5zM499.1,224.0h1.5v1.5h-1.5zM457.4,233.2h1.5v1.5h-1.5zM484.4,230.5h1.5v1.5h-1.5zM484.6,214.9h1.5v1.5h-1.5zM489.8,232.1h1.5v1.5h-1.5zM464.6,229.9h1.5v1.5h-1.5zM478.2,229.5h1.5v1.5h-1.5zM486.2,217.7h1.5v1.5h-1.5zM476.3,231.3h1.5v1.5h-1.5zM480.5,229.5h1.5v1.5h-1.5zM480.2,218.2h1.5v1.5h-1.5zM471.8,238.0h1.5v1.5h-1.5zM468.5,225.2h1.5v1.5h-1.5zM467.0,227.6h1.5v1.5h-1.5zM484.3,227.4h1.5v1.5h-1.5zM475.0,220.2h1.5v1.5h-1.5zM474.9,217.9h1.5v1.5h-1.5zM489.7,230.2h1.5v1.5h-1.5zM469.3,226.1h1.5v1.5h-1.5zM500.2,228.3h1.5v1.5h-1.5zM482.6,229.5h1.5v1.5h-1.5zM495.1,231.6h1.5v1.5h-1.5zM465.7,223.3h1.5v1.5h-1.5zM476.1,225.5h1.5v1.5h-1.5zM478.4,232.2h1.5v1.5h-1.5zM488.9,222.9h1.5v1.5h-1.5zM487.5,223.6h1.5v1.5h-1.5zM475.6,224.8h1.5v1.5h-1.5zM493.7,228.2h1.5v1.5h-1.5zM481.1,227.5h1.5v1.5h-1.5zM500.2,230.8h1.5v1.5h-1.5zM469.4,237.2h1.5v1.5h-1.5zM463.5,208.0h1.5v1.5h-1.5zM480.9,225.0h1.5v1.5h-1.5zM482.1,225.4h1.5v1.5h-1.5zM489.6,233.1h1.5v1.5h-1.5zM487.5,240.3h1.5v1.5h-1.5zM465.4,226.3h1.5v1.5h-1.5zM479.2,228.7h1.5v1.5h-1.5zM492.7,219.8h1.5v1.5h-1.5zM487.0,216.3h1.5v1.5h-1.5zM477.2,234.1h1.5v1.5h-1.5zM488.4,224.7h1.5v1.5h-1.5zM496.0,230.4h1.5v1.5h-1.5zM475.3,225.9h1.5v1.5h-1.5zM478.8,232.9h1.5v1.5h-1.5zM490.6,228.6h1.5v1.5h-1.5zM474.3,220.9h1.5v1.5h-1.5zM484.1,237.0h1.5v1.5h-1.5zM475.4,220.5h1.5v1.5h-1.5zM482.3,235.1h1.5v1.5h-1.5zM461.8,226.2h1.5v1.5h-1.5zM489.3,218.9h1.5v1.5h-1.5zM478.3,218.4h1.5v1.5h-1.5zM478.7,219.2h1.5v1.5h-1.5zM461.3,241.6h1.5v1.5h-1.5zM477.5,221.6h1.5v1.5h-1.5zM481.9,222.5h1.5v1.5h-1.5zM483.6,219.0h1.5v1.5h-1.5zM466.6,238.0h1.5v1.5h-1.5zM496.9,226.1h1.5v1.5h-1.5zM474.6,219.6h1.5v1.5h-1.5zM469.8,238.5h1.5v1.5h-1.5zM480.3,222.6h1.5v1.5h-1.5zM492.2,224.9h1.5v1.5h-1.5zM487.4,221.8h1.5v1.5h-1.5zM479.5,235.1h1.5v1.5h-1.5zM464.2,228.7h1.5v1.5h-1.5zM488.5,228.5h1.5v1.5h-1.5zM493.6,232.6h1.5v1.5h-1.5zM477.8,212.9h1.5v1.5h-1.5zM456.0,220.9h1.5v1.5h-1.5zM474.1,227.6h1.5v1.5h-1.5zM496.3,226.6h1.5v1.5h-1.5zM480.4,222.3h1.5v1.5h-1.5zM480.2,233.1h1.5v1.5h-1.5zM494.9,234.6h1.5v1.5h-1.5zM465.2,221.2h1.5v1.5h-1.5zM467.9,223.6h1.5v1.5h-1.5zM486.5,227.5h1.5v1.5h-1.5zM492.4,223.1h1.5v1.5h-1.5zM470.9,218.2h1.5v1.5h-1.5zM495.0,234.2h1.5v1.5h-1.5zM463.1,218.3h1.5v1.5h-1.5zM484.1,210.5h1.5v1.5h-1.5zM488.4,229.3h1.5v1.5h-1.5zM481.3,237.0h1.5v1.5h-1.5zM488.8,228.1h1.5v1.5h-1.5zM485.5,225.8h1.5v1.5h-1.5zM482.3,231.1h1.5v1.5h-1.5zM470.7,222.9h1.5v1.5h-1.5zM480.4,219.3h1.5v1.5h-1.5zM479.8,234.2h1.5v1.5h-1.5zM476.9,225.3h1.5v1.5h-1.5zM469.6,217.3h1.5v1.5h-1.5zM468.4,217.3h1.5v1.5h-1.5zM457.3,237.2h1.5v1.5h-1.5zM456.5,226.5h1.5v1.5h-1.5zM479.8,225.1h1.5v1.5h-1.5zM491.1,231.0h1.5v1.5h-1.5zM486.3,230.6h1.5v1.5h-1.5zM474.5,229.5h1.5v1.5h-1.5zM475.1,231.2h1.5v1.5h-1.5zM496.5,232.4h1.5v1.5h-1.5zM461.9,232.7h1.5v1.5h-1.5zM463.0,226.4h1.5v1.5h-1.5z" fill="#4152b9" fill-opacity="1"/>
<line x1="396.0" y1="219.95" x2="506.9" y2="221.3" stroke="#5a6cbc" stroke-width="1.6" stroke-opacity="0.85"/>
<line x1="391.3" y1="186.2" x2="391.3" y2="291.3" stroke="#231f20" stroke-width="1.1" />
<path d="M388.8,276.2 L393.8,273.8 L393.8,275.8 L388.8,278.2Z" fill="#fff"/>
<path d="M388.8,276.2 L393.8,273.8 M388.8,278.2 L393.8,275.8" stroke="#231f20" stroke-width="1.0" fill="none" />
<line x1="388.3" y1="203.2" x2="391.3" y2="203.2" stroke="#231f20" stroke-width="1.0" />
<text x="386.0" y="206.0" font-size="8.5" text-anchor="end" font-weight="normal" fill="#231f20" >3</text>
<line x1="388.3" y1="230.8" x2="391.3" y2="230.8" stroke="#231f20" stroke-width="1.0" />
<text x="386.0" y="233.60000000000002" font-size="8.5" text-anchor="end" font-weight="normal" fill="#231f20" >2</text>
<line x1="388.3" y1="258.4" x2="391.3" y2="258.4" stroke="#231f20" stroke-width="1.0" />
<text x="386.0" y="261.2" font-size="8.5" text-anchor="end" font-weight="normal" fill="#231f20" >1</text>
<line x1="388.3" y1="286.0" x2="391.3" y2="286.0" stroke="#231f20" stroke-width="1.0" />
<text x="386.0" y="288.8" font-size="8.5" text-anchor="end" font-weight="normal" fill="#231f20" >0</text>
<line x1="390.75" y1="291.1" x2="512.0" y2="291.1" stroke="#231f20" stroke-width="1.1" />
<path d="M396.59999999999997,294.1 L401.2,288.1 L402.8,288.1 L398.2,294.1Z" fill="#fff"/>
<path d="M396.59999999999997,294.1 L401.2,288.1 M398.2,294.1 L402.8,288.1" stroke="#231f20" stroke-width="1.0" fill="none" />
<line x1="396.5" y1="291.1" x2="396.5" y2="294.3" stroke="#231f20" stroke-width="1.0" />
<text x="396.5" y="304.2" font-size="8.5" text-anchor="middle" font-weight="normal" fill="#231f20" >0</text>
<line x1="432.0" y1="291.1" x2="432.0" y2="294.3" stroke="#231f20" stroke-width="1.0" />
<text x="432.0" y="304.2" font-size="8.5" text-anchor="middle" font-weight="normal" fill="#231f20" >1</text>
<line x1="467.5" y1="291.1" x2="467.5" y2="294.3" stroke="#231f20" stroke-width="1.0" />
<text x="467.5" y="304.2" font-size="8.5" text-anchor="middle" font-weight="normal" fill="#231f20" >2</text>
<line x1="503.0" y1="291.1" x2="503.0" y2="294.3" stroke="#231f20" stroke-width="1.0" />
<text x="503.0" y="304.2" font-size="8.5" text-anchor="middle" font-weight="normal" fill="#231f20" >3</text>
<text x="422.2" y="316.3" font-size="9.2" text-anchor="start" font-weight="normal" fill="#231f20" textLength="58.2" lengthAdjust="spacingAndGlyphs" >Log(CD4 cells/μl)</text>
<text transform="translate(375.9,264.3) rotate(-90)" font-size="9.2" fill="#231f20" textLength="54.7" lengthAdjust="spacingAndGlyphs">Log(NK cells/μl)</text>
<rect x="0.55" y="0.55" width="518.9" height="324.9" fill="none" stroke="#000" stroke-width="1.1"/>
</svg>
</body></html>
